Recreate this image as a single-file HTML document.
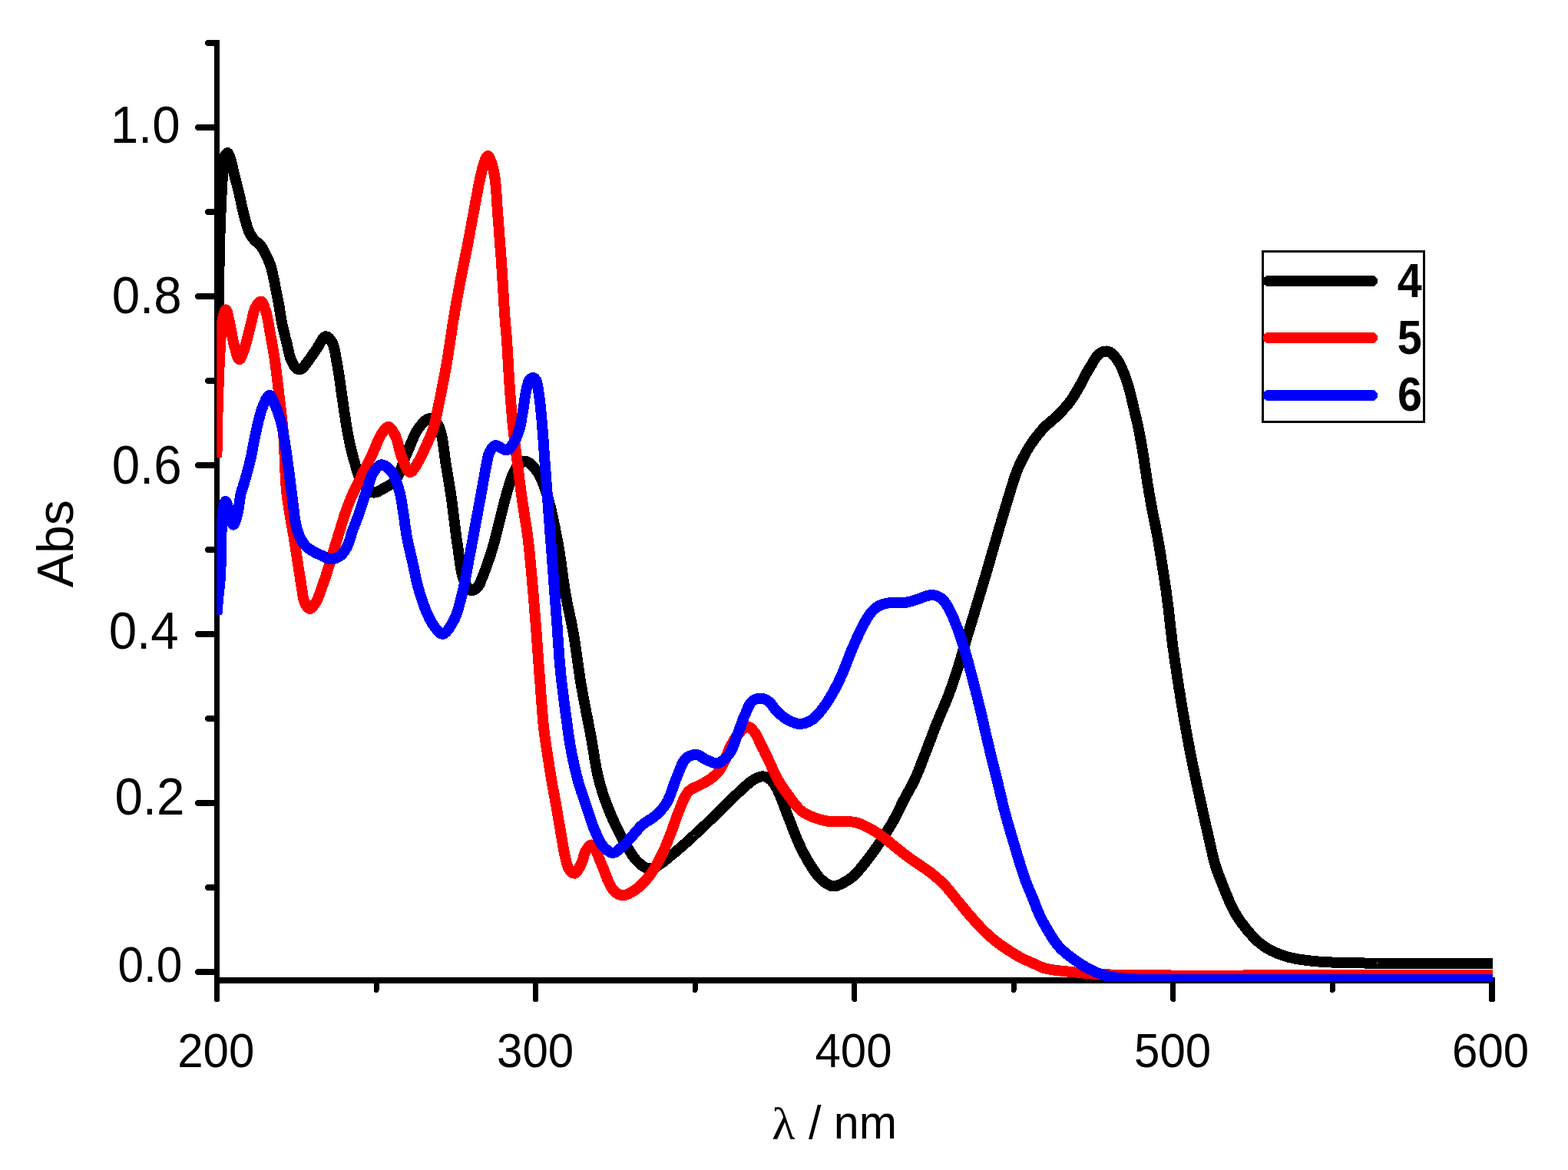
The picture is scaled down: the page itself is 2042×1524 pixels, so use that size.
<!DOCTYPE html>
<html><head><meta charset="utf-8"><title>UV-Vis absorption spectra</title>
<style>
html,body{margin:0;padding:0;background:#fff;}
body{width:2042px;height:1524px;}
svg{display:block;}
text{font-family:"Liberation Sans",sans-serif;fill:#000;}
.lg{font-weight:bold;}
.sym{font-family:"Liberation Serif",serif;}
</style></head><body>
<svg width="2042" height="1524" viewBox="0 0 2042 1524">
<rect x="0" y="0" width="2042" height="1524" fill="#fff"/>
<defs><clipPath id="plot"><rect x="282.2" y="40" width="1661.8" height="1238"/></clipPath></defs>
<g id="axes" fill="#000" shape-rendering="crispEdges"><rect x="279" y="52" width="7" height="1229"/>
<rect x="279" y="1273" width="1668" height="8"/>
<path d="M258 1266.0H282" stroke="#000" stroke-width="8" stroke-linecap="round" fill="none"/>
<path d="M271 1156.0H282" stroke="#000" stroke-width="8" stroke-linecap="round" fill="none"/>
<path d="M258 1046.0H282" stroke="#000" stroke-width="8" stroke-linecap="round" fill="none"/>
<path d="M271 936.0H282" stroke="#000" stroke-width="8" stroke-linecap="round" fill="none"/>
<path d="M258 826.0H282" stroke="#000" stroke-width="8" stroke-linecap="round" fill="none"/>
<path d="M271 716.0H282" stroke="#000" stroke-width="8" stroke-linecap="round" fill="none"/>
<path d="M258 606.0H282" stroke="#000" stroke-width="8" stroke-linecap="round" fill="none"/>
<path d="M271 496.0H282" stroke="#000" stroke-width="8" stroke-linecap="round" fill="none"/>
<path d="M258 386.0H282" stroke="#000" stroke-width="8" stroke-linecap="round" fill="none"/>
<path d="M271 276.0H282" stroke="#000" stroke-width="8" stroke-linecap="round" fill="none"/>
<path d="M258 166.0H282" stroke="#000" stroke-width="8" stroke-linecap="round" fill="none"/>
<path d="M271 56.0H282" stroke="#000" stroke-width="8" stroke-linecap="round" fill="none"/>
<path d="M282.5 1277V1301.5" stroke="#000" stroke-width="7" stroke-linecap="round" fill="none"/>
<path d="M490.0 1277V1289.5" stroke="#000" stroke-width="7" stroke-linecap="round" fill="none"/>
<path d="M697.5 1277V1301.5" stroke="#000" stroke-width="7" stroke-linecap="round" fill="none"/>
<path d="M905.1 1277V1289.5" stroke="#000" stroke-width="7" stroke-linecap="round" fill="none"/>
<path d="M1112.6 1277V1301.5" stroke="#000" stroke-width="7" stroke-linecap="round" fill="none"/>
<path d="M1320.1 1277V1289.5" stroke="#000" stroke-width="7" stroke-linecap="round" fill="none"/>
<path d="M1527.7 1277V1301.5" stroke="#000" stroke-width="7" stroke-linecap="round" fill="none"/>
<path d="M1735.2 1277V1289.5" stroke="#000" stroke-width="7" stroke-linecap="round" fill="none"/>
<path d="M1943.0 1277V1301.5" stroke="#000" stroke-width="8" stroke-linecap="round" fill="none"/></g>
<g id="curves" clip-path="url(#plot)" fill="none" stroke-linejoin="round" stroke-linecap="butt" stroke-width="14" shape-rendering="crispEdges"><path id="c-black" stroke="#000000" d="M282.3 560.0L282.4 557.5L282.4 555.0L282.5 552.5L282.5 550.0L282.6 547.5L282.6 545.0L282.7 542.5L282.7 540.0L282.8 537.5L282.8 534.9L282.9 532.4L282.9 529.9L283.0 527.4L283.0 524.9L283.1 522.4L283.2 519.9L283.2 517.4L283.3 514.9L283.3 512.4L283.4 509.9L283.4 507.3L283.5 504.8L283.5 502.3L283.6 499.8L283.6 497.3L283.7 494.8L283.7 492.3L283.8 489.8L283.8 487.3L283.9 484.8L283.9 482.3L284.0 479.8L284.0 477.3L284.1 474.8L284.1 472.3L284.2 469.8L284.2 467.4L284.3 464.9L284.3 462.4L284.3 459.9L284.4 457.4L284.4 454.9L284.5 452.5L284.5 450.0L284.5 447.5L284.6 444.9L284.6 442.3L284.6 439.8L284.7 437.2L284.7 434.6L284.7 432.0L284.7 429.4L284.8 426.7L284.8 424.1L284.8 421.5L284.8 418.8L284.9 416.2L284.9 413.6L284.9 410.9L284.9 408.3L284.9 405.7L284.9 403.1L285.0 400.4L285.0 397.8L285.0 395.2L285.0 392.7L285.0 390.1L285.0 387.5L285.1 385.0L285.1 382.4L285.1 379.9L285.1 377.4L285.1 374.9L285.2 372.5L285.2 370.0L285.2 367.6L285.2 365.2L285.2 362.9L285.3 360.5L285.3 358.2L285.3 355.9L285.4 353.7L285.4 351.5L285.4 349.3L285.5 347.1L285.5 345.0L285.6 342.1L285.6 339.3L285.7 336.6L285.7 333.9L285.8 331.2L285.8 328.6L285.9 326.0L286.0 323.5L286.0 321.0L286.1 318.5L286.2 316.1L286.2 313.6L286.3 311.2L286.4 308.9L286.4 306.5L286.5 304.1L286.6 301.8L286.7 299.4L286.8 297.1L286.8 294.7L286.9 292.4L287.0 290.0L287.1 287.4L287.2 284.7L287.3 282.1L287.4 279.5L287.5 276.9L287.6 274.3L287.7 271.7L287.8 269.1L287.9 266.6L288.0 264.1L288.2 261.6L288.3 259.1L288.4 256.7L288.5 254.2L288.6 251.9L288.8 249.5L288.9 247.2L289.0 245.0L289.2 242.1L289.3 239.2L289.5 236.3L289.6 233.5L289.8 230.8L290.0 228.1L290.1 225.5L290.3 223.0L290.5 220.5L290.8 218.2L291.0 216.0L291.3 212.7L291.7 209.5L292.0 206.6L292.6 204.0L293.3 202.0L296.3 199.0L297.6 200.4L298.8 203.3L300.0 206.5L300.7 208.7L301.4 211.2L302.0 213.9L302.6 216.6L303.2 219.4L303.8 222.0L304.4 224.5L305.0 226.9L305.6 229.3L306.2 231.7L306.9 234.2L307.5 236.7L308.2 239.4L308.9 242.2L309.6 244.9L310.3 247.7L311.0 250.5L311.7 253.3L312.3 256.1L312.9 258.9L313.5 261.6L314.1 264.4L314.7 267.2L315.3 270.0L316.0 272.8L316.6 275.6L317.3 278.4L318.0 281.2L318.7 283.9L319.5 286.7L320.3 289.5L321.1 292.4L322.0 295.3L322.9 298.1L323.9 300.8L325.0 303.3L326.3 305.8L327.8 308.1L329.4 310.3L331.0 312.3L332.5 314.0L335.3 316.0L338.0 318.0L339.7 320.1L341.3 322.6L342.9 325.4L344.5 328.3L345.6 330.4L346.8 332.7L347.9 335.1L349.0 337.6L350.1 340.1L351.1 342.5L352.0 345.0L352.9 347.8L353.7 350.5L354.3 353.3L355.0 356.1L355.6 358.9L356.2 361.7L356.8 364.5L357.4 367.2L357.9 370.0L358.4 372.8L359.0 375.5L359.5 378.3L360.0 381.0L360.6 383.7L361.1 386.4L361.7 389.2L362.2 392.0L362.8 395.0L363.2 397.3L363.6 399.6L364.0 402.1L364.4 404.5L364.7 407.1L365.2 409.6L365.6 412.2L366.0 414.8L366.5 417.4L367.0 420.0L367.5 422.4L368.1 425.0L368.7 427.5L369.3 430.1L369.9 432.8L370.6 435.4L371.2 438.0L371.8 440.6L372.5 443.1L373.1 445.5L373.7 447.8L374.2 450.0L374.9 453.1L375.5 456.0L376.1 458.8L376.7 461.5L377.4 464.1L378.3 466.7L379.3 469.2L380.5 471.8L381.8 474.4L383.1 476.7L384.5 478.6L386.0 480.0L389.0 481.2L392.0 481.0L394.0 479.7L396.0 477.5L397.9 474.8L400.0 472.0L401.4 470.2L402.9 468.2L404.4 466.0L405.9 463.9L407.4 461.6L408.9 459.4L410.5 457.2L412.0 455.0L413.5 452.7L415.1 450.1L416.6 447.3L418.2 444.7L419.7 442.2L421.2 440.2L422.7 438.8L424.2 438.2L426.3 438.6L428.3 440.1L430.3 442.4L432.0 445.0L432.9 446.7L433.7 448.6L434.4 450.7L435.0 453.0L435.6 455.5L436.2 458.1L436.7 460.8L437.2 463.6L437.7 466.4L438.2 469.3L438.7 472.1L439.2 475.0L439.6 477.2L440.0 479.5L440.4 481.8L440.8 484.2L441.2 486.7L441.6 489.2L442.0 491.7L442.4 494.3L442.7 496.9L443.1 499.5L443.5 502.1L443.8 504.7L444.2 507.3L444.5 509.9L444.9 512.5L445.2 515.1L445.6 517.6L446.0 520.1L446.3 522.6L446.7 525.0L447.1 527.7L447.5 530.4L447.9 533.1L448.3 535.8L448.7 538.5L449.1 541.1L449.5 543.8L449.9 546.4L450.3 549.0L450.7 551.6L451.1 554.2L451.5 556.7L451.9 559.2L452.4 561.8L452.8 564.2L453.3 566.7L453.8 569.4L454.4 572.1L454.9 574.7L455.5 577.3L456.1 579.9L456.6 582.5L457.2 585.0L457.8 587.5L458.5 590.1L459.1 592.6L459.8 595.0L460.5 597.5L461.2 600.0L462.0 602.6L462.7 605.3L463.5 608.0L464.2 610.8L465.0 613.5L465.9 616.2L466.7 618.8L467.6 621.3L468.6 623.7L469.7 626.0L470.8 628.1L472.0 630.0L473.7 632.3L475.6 634.5L477.6 636.6L479.6 638.4L481.7 639.8L483.9 640.9L486.0 641.5L488.3 641.5L490.6 640.9L493.0 640.0L495.3 638.7L497.7 637.3L500.0 636.0L502.2 634.8L504.4 633.6L506.7 632.2L508.9 630.8L511.0 629.1L513.1 627.2L515.0 625.0L516.2 623.3L517.4 621.5L518.5 619.4L519.5 617.2L520.5 614.9L521.5 612.5L522.5 610.1L523.4 607.5L524.3 605.0L525.2 602.4L526.2 599.8L527.1 597.2L528.0 594.8L529.0 592.3L530.0 590.0L531.0 587.6L532.1 585.2L533.1 582.7L534.1 580.2L535.1 577.8L536.1 575.3L537.1 572.9L538.2 570.5L539.2 568.1L540.3 565.9L541.4 563.7L542.6 561.7L543.8 559.8L545.0 558.0L546.9 555.4L549.0 552.9L551.1 550.5L553.3 548.3L555.4 546.6L557.5 545.5L559.5 545.0L561.8 545.4L564.1 546.7L566.3 548.6L568.3 550.8L570.0 553.0L571.4 555.3L572.5 557.8L573.4 560.5L574.2 563.5L575.0 566.7L575.5 568.7L575.9 570.9L576.3 573.2L576.7 575.6L577.1 578.1L577.4 580.7L577.8 583.3L578.1 586.0L578.5 588.8L578.8 591.5L579.2 594.4L579.6 597.2L580.0 600.0L580.4 602.3L580.7 604.7L581.1 607.2L581.5 609.7L582.0 612.3L582.4 614.9L582.8 617.6L583.3 620.3L583.7 623.0L584.2 625.7L584.6 628.4L585.0 631.0L585.5 633.6L585.9 636.2L586.3 638.7L586.7 641.2L587.0 643.5L587.4 645.8L587.7 648.0L588.0 650.0L588.4 653.0L588.8 655.8L589.1 658.4L589.4 660.8L589.7 663.3L590.1 665.8L590.4 668.4L590.8 671.3L591.0 673.6L591.3 676.0L591.6 678.4L591.9 680.9L592.2 683.5L592.6 686.1L592.9 688.8L593.2 691.4L593.6 694.2L593.9 696.9L594.3 699.7L594.7 702.4L595.1 705.2L595.5 708.0L595.9 710.4L596.2 712.9L596.6 715.4L596.9 718.0L597.3 720.7L597.6 723.4L598.0 726.1L598.4 728.9L598.7 731.6L599.1 734.3L599.6 737.0L600.0 739.6L600.5 742.1L601.0 744.6L601.5 746.9L602.1 749.1L602.7 751.3L603.3 753.2L604.0 755.0L605.4 758.3L606.9 761.4L608.5 764.3L610.2 766.7L612.0 768.4L613.8 769.2L615.9 769.0L618.3 767.8L620.5 766.0L622.5 764.0L623.9 762.1L625.1 759.9L626.1 757.4L627.0 754.9L628.0 752.5L629.0 750.1L629.9 747.8L630.8 745.4L631.8 742.8L632.8 740.0L633.6 737.9L634.4 735.6L635.2 733.1L636.1 730.6L637.0 728.1L637.9 725.4L638.7 722.8L639.6 720.2L640.4 717.5L641.2 715.0L641.9 712.5L642.6 710.0L643.3 707.4L644.0 704.9L644.7 702.3L645.3 699.8L646.0 697.3L646.6 694.8L647.2 692.4L647.8 690.0L648.5 687.4L649.1 684.9L649.7 682.4L650.3 679.9L650.9 677.5L651.6 675.0L652.2 672.5L652.8 670.0L653.5 667.3L654.1 664.6L654.8 661.8L655.5 659.1L656.2 656.3L656.9 653.6L657.6 650.9L658.3 648.3L659.1 645.6L659.8 642.9L660.6 640.2L661.4 637.5L662.2 635.0L662.9 632.4L663.7 630.0L664.6 627.2L665.4 624.4L666.2 621.8L667.2 619.2L668.3 616.7L669.6 614.1L671.0 611.5L672.5 609.1L674.2 606.8L676.0 605.0L678.8 602.9L681.8 601.3L685.0 601.0L686.8 601.6L688.7 602.6L690.6 604.1L692.6 605.9L694.6 608.0L696.5 610.3L698.3 612.6L700.0 615.0L701.2 616.8L702.3 618.7L703.4 620.8L704.4 622.9L705.4 625.1L706.4 627.4L707.3 629.8L708.2 632.2L709.0 634.7L709.9 637.3L710.8 639.9L711.6 642.6L712.5 645.3L713.3 648.0L714.0 650.1L714.6 652.3L715.2 654.6L715.8 656.9L716.5 659.2L717.1 661.6L717.7 664.0L718.2 666.5L718.8 669.0L719.4 671.5L720.0 674.0L720.5 676.6L721.1 679.2L721.6 681.8L722.2 684.4L722.7 687.0L723.2 689.7L723.7 692.3L724.2 694.9L724.7 697.6L725.2 700.2L725.7 702.8L726.2 705.4L726.7 708.0L727.2 710.5L727.6 713.0L728.0 715.6L728.4 718.1L728.9 720.7L729.3 723.3L729.6 725.9L730.0 728.6L730.4 731.2L730.8 733.8L731.1 736.4L731.5 739.1L731.9 741.7L732.2 744.3L732.6 747.0L732.9 749.6L733.3 752.2L733.6 754.8L734.0 757.3L734.4 759.9L734.7 762.4L735.1 764.9L735.5 767.4L735.9 769.9L736.3 772.3L736.7 774.7L737.2 777.4L737.7 780.0L738.1 782.5L738.6 785.1L739.1 787.5L739.6 790.0L740.2 792.5L740.7 794.9L741.2 797.3L741.7 799.7L742.2 802.1L742.7 804.5L743.2 806.9L743.8 809.4L744.3 811.9L744.8 814.3L745.3 816.9L745.7 819.4L746.2 822.0L746.7 824.7L747.1 827.1L747.5 829.5L747.9 831.9L748.3 834.4L748.7 836.9L749.1 839.4L749.4 841.9L749.8 844.5L750.2 847.0L750.5 849.6L750.9 852.2L751.3 854.8L751.6 857.4L752.0 860.0L752.4 862.6L752.7 865.3L753.1 867.9L753.5 870.5L753.9 873.1L754.3 875.7L754.6 878.4L755.0 881.0L755.4 883.6L755.9 886.2L756.3 888.7L756.7 891.3L757.1 893.8L757.6 896.3L758.0 898.7L758.4 901.2L758.9 903.7L759.3 906.2L759.8 908.7L760.3 911.2L760.8 913.7L761.2 916.2L761.7 918.7L762.2 921.2L762.7 923.7L763.2 926.2L763.6 928.7L764.1 931.2L764.6 933.6L765.1 936.1L765.6 938.6L766.1 941.0L766.5 943.5L767.0 945.9L767.5 948.4L767.9 950.8L768.4 953.2L768.9 955.6L769.3 958.0L769.8 960.6L770.2 963.2L770.7 965.8L771.1 968.4L771.6 971.0L772.0 973.6L772.4 976.2L772.8 978.8L773.3 981.4L773.7 984.0L774.1 986.5L774.5 989.1L774.9 991.6L775.4 994.1L775.8 996.6L776.3 999.1L776.8 1001.6L777.3 1004.1L777.8 1006.5L778.3 1008.9L778.8 1011.3L779.4 1013.7L780.0 1016.0L780.7 1018.6L781.4 1021.2L782.1 1023.8L782.9 1026.3L783.6 1028.8L784.4 1031.3L785.2 1033.8L786.0 1036.2L786.8 1038.6L787.7 1041.1L788.5 1043.5L789.4 1045.8L790.3 1048.2L791.2 1050.6L792.1 1052.9L793.1 1055.3L794.0 1057.6L795.0 1060.0L796.0 1062.5L797.1 1064.9L798.2 1067.4L799.4 1069.9L800.5 1072.4L801.7 1074.9L802.9 1077.3L804.1 1079.8L805.3 1082.2L806.5 1084.6L807.8 1087.0L809.0 1089.3L810.2 1091.5L811.4 1093.8L812.6 1095.9L813.8 1098.0L815.0 1100.0L816.5 1102.6L818.0 1105.1L819.5 1107.5L820.9 1109.9L822.4 1112.2L823.8 1114.4L825.3 1116.5L826.9 1118.5L828.4 1120.3L830.0 1122.0L832.1 1124.1L834.4 1126.0L836.6 1127.7L838.9 1129.2L841.1 1130.3L843.3 1131.0L845.8 1131.3L848.1 1131.1L850.6 1130.4L853.3 1129.3L855.0 1128.5L856.8 1127.5L858.7 1126.3L860.6 1124.9L862.7 1123.4L864.8 1121.8L866.9 1120.1L869.1 1118.4L871.3 1116.6L873.5 1114.7L875.7 1112.9L877.9 1111.1L880.0 1109.3L881.9 1107.7L883.8 1106.1L885.7 1104.5L887.7 1102.8L889.6 1101.1L891.6 1099.3L893.6 1097.6L895.5 1095.8L897.5 1094.0L899.5 1092.1L901.5 1090.3L903.5 1088.5L905.4 1086.6L907.4 1084.8L909.4 1083.0L911.3 1081.1L913.3 1079.3L915.2 1077.5L917.1 1075.7L919.1 1073.9L921.0 1072.0L923.0 1070.1L925.0 1068.1L927.0 1066.2L929.0 1064.3L931.0 1062.4L932.9 1060.5L934.8 1058.6L936.7 1056.8L938.5 1055.0L940.3 1053.2L942.0 1051.6L943.7 1050.0L945.2 1048.4L946.7 1047.0L948.9 1044.8L950.9 1042.9L952.7 1041.1L954.5 1039.3L956.2 1037.6L958.1 1035.8L960.0 1034.0L962.0 1032.1L964.1 1030.1L966.3 1028.1L968.5 1026.0L970.7 1024.0L972.8 1022.2L974.8 1020.5L976.7 1019.0L979.6 1016.9L982.3 1015.2L985.0 1013.8L987.6 1012.6L990.3 1011.7L993.0 1011.3L995.9 1011.6L998.8 1012.5L1001.5 1014.0L1003.3 1015.4L1005.0 1017.0L1006.7 1019.0L1008.3 1021.3L1010.0 1024.0L1010.9 1025.6L1011.9 1027.4L1012.8 1029.3L1013.8 1031.4L1014.7 1033.6L1015.7 1035.9L1016.7 1038.3L1017.7 1040.8L1018.7 1043.4L1019.7 1046.0L1020.7 1048.6L1021.6 1051.2L1022.6 1053.8L1023.6 1056.4L1024.5 1058.9L1025.5 1061.4L1026.4 1063.7L1027.3 1066.0L1028.3 1068.5L1029.3 1071.0L1030.3 1073.5L1031.2 1075.9L1032.1 1078.4L1033.1 1080.8L1034.0 1083.2L1034.9 1085.5L1035.8 1087.9L1036.8 1090.2L1037.7 1092.5L1038.7 1094.8L1039.7 1097.1L1040.7 1099.3L1041.8 1101.7L1042.9 1104.0L1044.1 1106.4L1045.2 1108.7L1046.4 1110.9L1047.6 1113.2L1048.8 1115.4L1050.0 1117.6L1051.2 1119.8L1052.5 1121.9L1053.7 1124.0L1055.0 1126.0L1056.4 1128.2L1057.8 1130.4L1059.3 1132.6L1060.7 1134.8L1062.2 1136.9L1063.7 1139.0L1065.2 1140.9L1066.8 1142.8L1068.4 1144.5L1070.0 1146.0L1072.4 1148.0L1074.8 1149.8L1077.3 1151.5L1079.9 1152.9L1082.4 1153.8L1085.0 1154.3L1087.5 1154.2L1090.0 1153.7L1092.6 1152.7L1095.1 1151.6L1097.6 1150.3L1100.0 1149.0L1102.3 1147.7L1104.6 1146.3L1106.8 1144.8L1108.9 1143.1L1111.1 1141.3L1113.3 1139.3L1115.0 1137.7L1116.7 1135.9L1118.3 1134.0L1120.0 1132.0L1121.7 1130.0L1123.4 1127.9L1125.0 1125.7L1126.7 1123.6L1128.4 1121.4L1130.0 1119.3L1131.6 1117.3L1133.1 1115.2L1134.6 1113.2L1136.2 1111.1L1137.7 1109.0L1139.2 1106.9L1140.7 1104.7L1142.2 1102.6L1143.7 1100.4L1145.2 1098.2L1146.7 1096.0L1148.1 1093.9L1149.6 1091.7L1151.0 1089.5L1152.4 1087.3L1153.8 1085.1L1155.2 1082.8L1156.6 1080.6L1158.0 1078.3L1159.4 1076.1L1160.7 1073.8L1162.0 1071.6L1163.3 1069.3L1164.6 1066.9L1165.9 1064.5L1167.1 1062.1L1168.3 1059.7L1169.5 1057.2L1170.7 1054.8L1171.9 1052.4L1173.1 1050.0L1174.3 1047.5L1175.5 1045.1L1176.7 1042.7L1177.9 1040.5L1179.0 1038.3L1180.2 1036.2L1181.4 1034.0L1182.6 1031.9L1183.8 1029.8L1185.0 1027.6L1186.2 1025.4L1187.4 1023.1L1188.6 1020.8L1189.8 1018.5L1191.0 1016.0L1192.0 1013.8L1193.0 1011.6L1194.0 1009.2L1195.0 1006.9L1196.0 1004.4L1197.0 1002.0L1198.0 999.5L1199.0 997.0L1199.9 994.4L1200.9 991.9L1201.9 989.4L1202.8 986.8L1203.8 984.3L1204.7 981.9L1205.7 979.4L1206.6 977.0L1207.5 974.7L1208.5 972.2L1209.4 969.7L1210.3 967.3L1211.3 964.9L1212.2 962.5L1213.1 960.1L1213.9 957.8L1214.8 955.4L1215.7 953.1L1216.6 950.7L1217.5 948.4L1218.4 946.0L1219.4 943.7L1220.3 941.3L1221.3 938.9L1222.3 936.5L1223.3 934.2L1224.3 931.8L1225.3 929.4L1226.3 927.0L1227.4 924.7L1228.4 922.3L1229.4 919.9L1230.4 917.5L1231.4 915.2L1232.4 912.8L1233.4 910.4L1234.3 908.0L1235.2 905.6L1236.1 903.3L1237.0 900.9L1237.8 898.5L1238.7 896.1L1239.5 893.8L1240.4 891.4L1241.2 889.0L1242.0 886.6L1242.8 884.2L1243.6 881.9L1244.4 879.5L1245.2 877.1L1246.0 874.7L1246.8 872.1L1247.6 869.6L1248.4 867.0L1249.2 864.4L1250.0 861.9L1250.7 859.3L1251.5 856.7L1252.2 854.2L1253.0 851.6L1253.7 849.0L1254.5 846.4L1255.2 843.9L1256.0 841.3L1256.8 838.7L1257.5 836.2L1258.3 833.6L1259.1 831.0L1259.8 828.5L1260.6 825.9L1261.4 823.4L1262.2 820.8L1262.9 818.2L1263.7 815.7L1264.5 813.1L1265.2 810.6L1266.0 808.0L1266.8 805.4L1267.5 802.9L1268.3 800.3L1269.1 797.8L1269.8 795.2L1270.6 792.6L1271.4 790.1L1272.2 787.5L1272.9 785.0L1273.7 782.4L1274.5 779.8L1275.2 777.3L1276.0 774.7L1276.8 772.1L1277.5 769.6L1278.3 767.0L1279.1 764.4L1279.9 761.9L1280.6 759.3L1281.4 756.7L1282.2 754.1L1283.0 751.6L1283.7 749.0L1284.5 746.4L1285.2 743.9L1286.0 741.3L1286.7 738.7L1287.5 736.1L1288.2 733.6L1289.0 731.0L1289.7 728.4L1290.4 725.8L1291.2 723.2L1291.9 720.6L1292.6 718.0L1293.4 715.5L1294.1 713.0L1294.8 710.5L1295.5 708.0L1296.3 705.4L1297.0 702.8L1297.7 700.3L1298.5 697.7L1299.2 695.2L1299.9 692.8L1300.7 690.3L1301.4 687.7L1302.2 685.2L1302.9 682.6L1303.7 680.0L1304.4 677.5L1305.2 675.0L1305.9 672.5L1306.7 670.0L1307.4 667.4L1308.2 664.8L1309.0 662.2L1309.7 659.6L1310.5 657.0L1311.3 654.4L1312.1 651.8L1312.9 649.3L1313.7 646.7L1314.4 644.3L1315.2 641.9L1315.9 639.4L1316.6 637.0L1317.4 634.5L1318.1 632.1L1318.9 629.6L1319.6 627.2L1320.4 624.8L1321.2 622.4L1322.0 620.1L1322.8 617.8L1323.6 615.5L1324.5 613.3L1325.5 610.8L1326.6 608.4L1327.6 606.0L1328.7 603.6L1329.8 601.3L1331.0 599.0L1332.1 596.8L1333.3 594.6L1334.4 592.4L1335.6 590.3L1336.7 588.3L1338.2 585.7L1339.7 583.2L1341.2 580.8L1342.7 578.5L1344.3 576.2L1345.9 574.0L1347.5 571.7L1349.2 569.5L1350.9 567.3L1352.6 565.1L1354.3 563.0L1356.2 560.9L1358.0 558.8L1360.0 556.7L1361.9 554.8L1364.0 552.9L1366.1 551.1L1368.2 549.3L1370.4 547.5L1372.5 545.6L1374.6 543.7L1376.7 541.7L1378.6 539.8L1380.5 537.8L1382.4 535.9L1384.3 533.9L1386.2 531.8L1388.1 529.7L1389.9 527.6L1391.6 525.5L1393.3 523.3L1394.8 521.3L1396.3 519.1L1397.7 517.0L1399.1 514.8L1400.4 512.5L1401.8 510.3L1403.0 508.1L1404.3 505.9L1405.5 503.8L1406.7 501.7L1408.1 499.2L1409.4 496.6L1410.7 494.1L1412.0 491.7L1413.2 489.3L1414.4 487.1L1415.5 485.0L1416.9 482.5L1418.3 480.3L1419.7 478.2L1421.0 476.0L1422.7 473.1L1424.3 470.2L1426.0 467.5L1427.7 465.1L1429.6 462.9L1431.5 461.0L1434.2 459.2L1437.0 458.0L1441.5 457.5L1446.0 459.0L1448.5 460.9L1451.0 463.5L1452.7 465.5L1454.4 467.8L1456.1 470.4L1457.8 473.3L1458.8 475.2L1459.8 477.2L1460.8 479.4L1461.8 481.7L1462.8 484.0L1463.8 486.5L1464.7 489.0L1465.7 491.5L1466.6 494.1L1467.5 496.7L1468.3 499.0L1469.0 501.5L1469.7 503.9L1470.4 506.5L1471.1 509.0L1471.8 511.6L1472.4 514.2L1473.1 516.9L1473.7 519.5L1474.3 522.2L1475.0 524.8L1475.6 527.4L1476.2 530.0L1476.8 532.6L1477.4 535.1L1478.0 537.7L1478.6 540.2L1479.2 542.8L1479.8 545.3L1480.4 547.9L1481.0 550.5L1481.6 553.0L1482.1 555.6L1482.7 558.2L1483.2 560.7L1483.7 563.3L1484.2 565.9L1484.7 568.4L1485.2 571.0L1485.6 573.6L1486.1 576.1L1486.5 578.7L1487.0 581.3L1487.4 583.8L1487.8 586.4L1488.2 589.0L1488.7 591.6L1489.1 594.1L1489.5 596.7L1489.9 599.3L1490.3 601.8L1490.7 604.4L1491.1 606.9L1491.4 609.5L1491.8 612.1L1492.2 614.6L1492.6 617.2L1492.9 619.8L1493.3 622.3L1493.7 624.9L1494.1 627.4L1494.5 630.0L1494.9 632.6L1495.4 635.2L1495.8 637.9L1496.2 640.5L1496.7 643.2L1497.2 645.8L1497.6 648.5L1498.1 651.1L1498.5 653.6L1499.0 656.2L1499.4 658.6L1499.9 661.0L1500.3 663.3L1500.8 666.1L1501.4 668.8L1501.9 671.4L1502.4 673.9L1502.9 676.3L1503.5 678.8L1504.0 681.4L1504.5 684.0L1505.0 686.5L1505.5 689.0L1506.0 691.4L1506.4 693.9L1506.9 696.4L1507.4 699.0L1507.9 701.8L1508.4 704.8L1509.0 708.0L1509.3 710.0L1509.7 712.0L1510.0 714.2L1510.4 716.4L1510.8 718.7L1511.2 721.1L1511.6 723.5L1512.0 726.1L1512.4 728.6L1512.8 731.2L1513.2 733.9L1513.6 736.5L1514.1 739.3L1514.5 742.0L1514.9 744.7L1515.3 747.5L1515.8 750.3L1516.2 753.1L1516.6 755.8L1517.0 758.6L1517.4 761.4L1517.8 764.1L1518.2 766.8L1518.6 769.5L1518.9 772.1L1519.3 774.7L1519.6 777.3L1520.0 779.8L1520.3 782.4L1520.6 784.9L1521.0 787.5L1521.3 790.1L1521.6 792.6L1521.9 795.2L1522.2 797.7L1522.5 800.3L1522.7 802.9L1523.0 805.4L1523.3 808.0L1523.6 810.6L1523.9 813.1L1524.2 815.7L1524.5 818.2L1524.8 820.8L1525.1 823.4L1525.4 825.9L1525.7 828.5L1526.0 831.1L1526.3 833.6L1526.6 836.2L1527.0 838.7L1527.3 841.3L1527.6 843.9L1528.0 846.4L1528.4 849.0L1528.7 851.6L1529.1 854.1L1529.4 856.7L1529.8 859.3L1530.2 861.8L1530.5 864.4L1530.9 867.0L1531.3 869.5L1531.7 872.1L1532.1 874.7L1532.5 877.2L1532.8 879.8L1533.2 882.4L1533.6 884.9L1534.0 887.5L1534.4 890.1L1534.8 892.6L1535.2 895.2L1535.6 897.7L1536.1 900.3L1536.5 902.9L1536.9 905.4L1537.3 908.0L1537.7 910.5L1538.1 913.0L1538.5 915.5L1539.0 918.0L1539.4 920.6L1539.8 923.1L1540.2 925.7L1540.7 928.3L1541.1 930.8L1541.6 933.4L1542.0 936.0L1542.4 938.5L1542.9 941.1L1543.3 943.6L1543.8 946.2L1544.2 948.7L1544.7 951.2L1545.1 953.7L1545.6 956.1L1546.0 958.6L1546.4 961.0L1546.9 963.3L1547.3 965.7L1547.7 968.0L1548.2 970.3L1548.6 972.5L1549.0 974.7L1549.5 977.5L1550.1 980.3L1550.6 982.9L1551.1 985.5L1551.6 988.0L1552.1 990.5L1552.6 992.9L1553.1 995.3L1553.6 997.7L1554.1 1000.2L1554.7 1002.7L1555.2 1005.2L1555.7 1007.8L1556.3 1010.4L1556.9 1013.1L1557.5 1016.0L1558.0 1018.2L1558.4 1020.4L1558.9 1022.7L1559.4 1025.1L1560.0 1027.5L1560.5 1029.9L1561.0 1032.4L1561.6 1034.9L1562.1 1037.5L1562.7 1040.0L1563.2 1042.6L1563.8 1045.2L1564.4 1047.8L1565.0 1050.4L1565.5 1053.0L1566.1 1055.7L1566.7 1058.3L1567.3 1060.8L1567.8 1063.4L1568.4 1066.0L1569.0 1068.5L1569.5 1071.0L1570.1 1073.4L1570.6 1075.8L1571.2 1078.2L1571.7 1080.5L1572.2 1082.8L1572.7 1085.0L1573.3 1087.8L1574.0 1090.6L1574.6 1093.4L1575.2 1096.1L1575.8 1098.8L1576.4 1101.5L1577.0 1104.2L1577.6 1106.8L1578.2 1109.3L1578.8 1111.9L1579.3 1114.3L1579.9 1116.8L1580.5 1119.1L1581.1 1121.4L1581.7 1123.7L1582.4 1125.9L1583.0 1128.0L1583.9 1130.8L1584.8 1133.5L1585.7 1136.0L1586.6 1138.5L1587.6 1140.9L1588.5 1143.2L1589.4 1145.5L1590.3 1147.7L1591.2 1150.0L1592.2 1152.6L1593.2 1155.0L1594.1 1157.5L1595.1 1159.9L1596.0 1162.2L1597.0 1164.6L1598.0 1167.0L1599.0 1169.4L1600.0 1171.8L1601.0 1174.1L1602.1 1176.5L1603.1 1178.8L1604.2 1181.1L1605.3 1183.3L1606.5 1185.6L1607.8 1187.9L1609.0 1190.1L1610.3 1192.3L1611.6 1194.4L1613.0 1196.5L1614.7 1199.0L1616.4 1201.4L1618.2 1203.8L1620.0 1206.1L1621.7 1208.3L1623.5 1210.6L1625.3 1212.8L1627.1 1214.9L1629.0 1217.0L1630.8 1219.0L1632.7 1221.0L1634.6 1223.0L1636.7 1225.0L1638.5 1226.6L1640.5 1228.3L1642.5 1229.9L1644.6 1231.5L1646.8 1233.1L1649.0 1234.5L1651.3 1235.9L1653.6 1237.2L1655.9 1238.4L1658.3 1239.5L1660.8 1240.6L1663.3 1241.7L1665.6 1242.6L1667.8 1243.5L1670.1 1244.3L1672.5 1245.1L1674.9 1245.8L1677.4 1246.5L1680.0 1247.2L1682.3 1247.7L1684.7 1248.2L1687.1 1248.7L1689.6 1249.1L1692.2 1249.6L1694.7 1249.9L1697.3 1250.3L1699.9 1250.7L1702.5 1251.0L1705.0 1251.3L1707.5 1251.6L1709.9 1251.8L1712.2 1252.1L1714.6 1252.3L1717.0 1252.5L1719.4 1252.7L1721.9 1252.8L1724.4 1253.0L1727.1 1253.1L1730.0 1253.3L1732.1 1253.4L1734.2 1253.5L1736.4 1253.6L1738.7 1253.7L1740.9 1253.8L1743.3 1253.8L1745.6 1253.9L1748.1 1254.0L1750.5 1254.0L1753.0 1254.1L1755.5 1254.1L1758.1 1254.2L1760.7 1254.2L1763.4 1254.3L1766.1 1254.3L1768.8 1254.3L1771.5 1254.4L1774.3 1254.4L1777.2 1254.5L1780.0 1254.5L1782.2 1254.5L1784.4 1254.6L1786.6 1254.6L1788.9 1254.6L1791.2 1254.6L1793.5 1254.7L1795.9 1254.7L1798.3 1254.7L1800.8 1254.7L1803.2 1254.7L1805.7 1254.8L1808.3 1254.8L1810.8 1254.8L1813.3 1254.8L1815.9 1254.8L1818.5 1254.8L1821.1 1254.9L1823.7 1254.9L1826.3 1254.9L1828.9 1254.9L1831.5 1254.9L1834.2 1254.9L1836.8 1254.9L1839.4 1254.9L1842.0 1254.9L1844.7 1254.9L1847.3 1254.9L1849.9 1254.9L1852.4 1255.0L1855.0 1255.0L1857.6 1255.0L1860.1 1255.0L1862.6 1255.0L1865.1 1255.0L1867.6 1255.0L1870.0 1255.0L1872.6 1255.0L1875.1 1255.0L1877.7 1255.0L1880.2 1255.0L1882.8 1255.0L1885.3 1255.0L1887.8 1255.0L1890.3 1255.0L1892.8 1255.0L1895.3 1255.0L1897.8 1255.0L1900.3 1255.0L1902.8 1255.0L1905.3 1255.0L1907.8 1255.0L1910.3 1255.0L1912.8 1255.0L1915.3 1255.0L1917.7 1255.0L1920.2 1255.0L1922.7 1255.0L1925.2 1255.0L1927.6 1255.0L1930.1 1255.0L1932.6 1255.0L1935.1 1255.0L1937.5 1255.0L1940.0 1255.0L1942.5 1255.0L1945.0 1255.0L1947.5 1255.0L1950.0 1255.0"/><path id="c-red" stroke="#ff0000" d="M282.3 596.0L282.4 593.5L282.4 590.9L282.5 588.4L282.5 585.8L282.6 583.3L282.6 580.7L282.7 578.2L282.7 575.7L282.8 573.1L282.8 570.6L282.9 568.0L282.9 565.4L283.0 562.9L283.0 560.4L283.1 557.8L283.1 555.3L283.2 552.7L283.2 550.2L283.3 547.6L283.3 545.1L283.4 542.6L283.4 540.0L283.5 537.5L283.6 535.0L283.6 532.5L283.7 530.0L283.8 527.5L283.8 525.0L283.9 522.5L284.0 520.0L284.1 517.4L284.2 514.9L284.3 512.3L284.3 509.6L284.4 507.0L284.5 504.4L284.6 501.7L284.7 499.1L284.8 496.4L284.9 493.8L285.0 491.2L285.1 488.5L285.2 485.9L285.3 483.3L285.4 480.7L285.5 478.2L285.7 475.6L285.8 473.1L285.9 470.6L286.0 468.2L286.1 465.7L286.2 463.4L286.4 461.0L286.5 458.7L286.6 456.5L286.7 454.3L286.9 452.1L287.0 450.0L287.2 447.1L287.3 444.2L287.5 441.4L287.7 438.6L287.8 435.8L288.0 433.1L288.1 430.5L288.3 428.0L288.5 425.6L288.8 423.2L289.0 421.0L289.3 418.9L289.6 416.9L290.0 415.0L290.9 411.0L292.0 407.2L293.1 404.4L294.2 403.3L295.0 404.1L295.8 406.2L296.6 409.3L297.4 412.8L298.2 416.5L299.0 420.0L299.5 422.2L300.0 424.6L300.5 427.1L300.9 429.6L301.4 432.3L301.9 434.9L302.3 437.6L302.8 440.3L303.3 442.8L303.9 445.4L304.4 447.7L305.0 450.0L305.9 453.2L306.8 456.6L307.7 460.1L308.7 463.2L309.7 465.8L310.7 467.6L311.7 468.3L312.9 467.5L314.2 465.2L315.5 462.1L316.8 458.5L318.0 455.0L318.7 452.9L319.4 450.7L320.1 448.3L320.8 445.8L321.4 443.3L322.1 440.6L322.8 437.9L323.4 435.3L324.1 432.6L324.7 430.0L325.4 427.4L326.0 425.0L326.7 422.3L327.3 419.6L328.0 416.8L328.6 414.1L329.2 411.4L329.8 408.7L330.5 406.2L331.3 403.9L332.1 401.8L333.0 400.0L334.6 397.3L336.5 394.8L338.3 393.0L340.0 392.5L341.4 393.4L342.6 395.6L343.8 398.5L344.9 401.8L346.0 405.0L346.7 407.1L347.3 409.4L347.8 411.8L348.3 414.3L348.8 416.9L349.3 419.6L349.8 422.3L350.3 425.1L350.7 427.8L351.2 430.6L351.7 433.3L352.2 435.8L352.6 438.2L353.1 440.7L353.5 443.1L354.0 445.6L354.4 448.1L354.9 450.7L355.3 453.2L355.8 455.8L356.2 458.5L356.6 461.2L357.1 463.9L357.5 466.7L357.8 469.0L358.2 471.3L358.5 473.6L358.8 476.0L359.1 478.5L359.5 480.9L359.8 483.4L360.1 486.0L360.4 488.5L360.7 491.1L361.0 493.6L361.3 496.2L361.6 498.8L361.9 501.4L362.2 504.0L362.5 506.5L362.8 509.1L363.1 511.7L363.4 514.2L363.7 516.7L364.0 519.2L364.3 521.7L364.6 524.1L364.9 526.5L365.2 529.0L365.5 531.4L365.8 533.8L366.0 536.2L366.3 538.6L366.6 541.1L366.9 543.5L367.2 546.0L367.4 548.5L367.7 551.0L368.0 553.5L368.2 556.1L368.5 558.7L368.7 561.3L369.0 564.0L369.2 566.7L369.4 569.0L369.6 571.4L369.7 573.8L369.9 576.3L370.0 578.7L370.1 581.2L370.2 583.8L370.3 586.3L370.4 588.9L370.5 591.5L370.6 594.1L370.7 596.7L370.8 599.4L370.9 602.0L371.0 604.7L371.1 607.3L371.2 610.0L371.3 612.7L371.5 615.3L371.6 618.0L371.7 620.6L371.9 623.3L372.0 625.9L372.2 628.5L372.4 631.1L372.6 633.7L372.8 636.3L373.0 638.8L373.3 641.3L373.6 643.8L373.9 646.4L374.2 648.9L374.5 651.5L374.9 654.0L375.3 656.6L375.7 659.1L376.0 661.7L376.4 664.2L376.9 666.7L377.3 669.2L377.7 671.8L378.1 674.3L378.6 676.8L379.0 679.2L379.5 681.7L379.9 684.2L380.3 686.6L380.8 689.1L381.2 691.5L381.6 693.9L382.0 696.3L382.5 698.7L382.9 701.0L383.3 703.4L383.6 705.7L384.0 708.0L384.4 710.7L384.8 713.4L385.2 716.0L385.6 718.7L386.0 721.4L386.4 724.0L386.8 726.6L387.2 729.3L387.6 731.8L388.0 734.4L388.4 736.9L388.7 739.5L389.1 741.9L389.5 744.4L389.9 746.8L390.2 749.1L390.6 751.4L391.0 753.7L391.3 755.9L391.7 758.0L392.2 760.8L392.6 763.7L393.0 766.4L393.4 769.2L393.8 771.8L394.2 774.4L394.6 776.8L395.1 779.1L395.7 781.3L396.3 783.2L397.0 785.0L398.4 787.8L399.9 790.4L401.6 792.2L403.3 793.0L405.2 792.3L407.1 790.5L409.1 787.9L411.0 785.0L412.1 783.2L413.1 781.3L414.1 779.1L415.0 776.8L416.0 774.4L416.9 771.8L417.8 769.2L418.8 766.5L419.7 763.7L420.7 760.8L421.7 758.0L422.4 755.9L423.2 753.6L424.0 751.4L424.7 749.0L425.5 746.6L426.3 744.2L427.0 741.7L427.8 739.1L428.6 736.6L429.4 734.0L430.2 731.4L431.0 728.8L431.8 726.1L432.5 723.5L433.3 720.9L434.1 718.2L434.9 715.6L435.7 713.1L436.5 710.5L437.3 708.0L438.1 705.5L438.9 702.9L439.7 700.4L440.4 697.8L441.2 695.2L442.0 692.6L442.8 690.1L443.6 687.5L444.4 684.9L445.1 682.3L445.9 679.7L446.7 677.2L447.5 674.7L448.3 672.2L449.1 669.7L450.0 667.3L450.8 664.9L451.6 662.6L452.5 660.3L453.3 658.0L454.3 655.4L455.4 652.8L456.4 650.4L457.4 647.9L458.5 645.5L459.5 643.2L460.6 640.9L461.7 638.6L462.8 636.3L463.9 634.0L465.0 631.7L466.1 629.4L467.2 627.1L468.3 624.7L469.5 622.3L470.6 619.9L471.8 617.5L473.1 615.0L474.3 612.6L475.5 610.2L476.8 607.7L478.0 605.3L479.2 602.9L480.4 600.6L481.6 598.2L482.8 595.9L483.9 593.6L485.0 591.3L486.2 588.7L487.3 586.1L488.4 583.5L489.5 580.9L490.5 578.3L491.6 575.8L492.6 573.3L493.7 571.0L494.7 568.8L495.8 566.8L497.0 565.0L498.8 562.5L500.6 560.0L502.4 557.9L504.2 556.5L506.0 556.0L507.6 556.6L509.2 558.1L510.7 560.2L512.2 562.7L513.7 565.4L515.0 568.0L515.9 570.0L516.7 572.2L517.4 574.6L518.1 577.1L518.7 579.7L519.3 582.4L520.0 585.0L520.6 587.7L521.3 590.2L522.1 592.7L523.0 595.0L524.1 597.6L525.2 600.5L526.3 603.4L527.6 606.3L528.8 608.9L530.1 611.3L531.4 613.2L532.7 614.5L534.0 615.0L535.5 614.6L537.1 613.2L538.8 611.2L540.4 608.8L542.0 606.1L543.6 603.4L545.0 601.0L546.4 598.7L547.7 596.3L548.9 593.8L550.1 591.3L551.3 588.7L552.5 586.0L553.7 583.3L554.8 581.0L555.8 578.7L556.9 576.3L558.0 573.8L559.2 571.4L560.2 568.8L561.3 566.3L562.3 563.7L563.3 561.0L564.2 558.3L564.9 555.9L565.6 553.4L566.3 550.9L566.9 548.3L567.5 545.7L568.1 543.0L568.6 540.4L569.2 537.7L569.7 535.1L570.2 532.5L570.7 529.9L571.2 527.4L571.7 525.0L572.3 522.4L572.8 519.8L573.3 517.3L573.8 514.8L574.3 512.4L574.8 509.9L575.2 507.5L575.7 505.0L576.2 502.5L576.7 500.0L577.2 497.5L577.7 495.0L578.2 492.4L578.7 489.9L579.2 487.3L579.6 484.7L580.1 482.1L580.6 479.5L581.1 476.9L581.5 474.3L582.0 471.7L582.4 469.2L582.8 466.7L583.2 464.2L583.6 461.7L584.0 459.1L584.4 456.6L584.8 454.1L585.2 451.5L585.6 449.0L586.0 446.6L586.3 444.1L586.7 441.7L587.1 439.1L587.5 436.7L587.8 434.3L588.2 431.9L588.5 429.5L588.9 427.1L589.2 424.7L589.6 422.2L590.0 419.5L590.5 416.7L590.9 414.5L591.3 412.2L591.7 409.8L592.1 407.3L592.5 404.8L592.9 402.3L593.4 399.7L593.9 397.0L594.3 394.3L594.8 391.6L595.3 388.9L595.8 386.2L596.3 383.5L596.8 380.8L597.3 378.0L597.8 375.3L598.3 372.7L598.8 370.0L599.2 367.5L599.7 365.0L600.2 362.5L600.7 360.0L601.2 357.5L601.7 354.9L602.2 352.4L602.7 349.9L603.2 347.3L603.8 344.8L604.3 342.2L604.8 339.7L605.3 337.2L605.8 334.6L606.3 332.1L606.8 329.7L607.3 327.2L607.8 324.8L608.3 322.4L608.8 320.0L609.3 317.4L609.7 314.8L610.2 312.3L610.7 309.8L611.1 307.3L611.6 304.9L612.0 302.4L612.5 300.0L612.9 297.6L613.4 295.1L613.8 292.7L614.3 290.2L614.8 287.7L615.2 285.2L615.7 282.6L616.2 280.0L616.7 277.6L617.1 275.1L617.6 272.6L618.1 270.0L618.5 267.4L619.0 264.7L619.5 262.0L620.0 259.3L620.5 256.6L621.0 253.9L621.5 251.3L622.0 248.6L622.5 246.0L623.0 243.5L623.5 241.0L623.9 238.6L624.4 236.3L624.9 234.1L625.3 232.0L625.8 230.0L626.5 227.0L627.2 224.1L627.8 221.3L628.4 218.7L629.1 216.3L629.8 214.0L630.5 211.9L631.2 210.0L632.5 206.8L633.9 204.1L635.3 203.0L636.7 204.1L638.0 206.8L639.3 210.0L640.0 211.9L640.7 214.0L641.4 216.3L642.0 218.7L642.6 221.3L643.1 224.1L643.7 227.0L644.2 230.0L644.5 232.0L644.8 234.0L645.0 236.2L645.3 238.4L645.5 240.7L645.7 243.1L645.9 245.5L646.1 248.0L646.3 250.5L646.5 253.1L646.7 255.7L646.9 258.4L647.0 261.1L647.2 263.7L647.4 266.5L647.5 269.2L647.7 271.9L647.9 274.6L648.1 277.3L648.3 280.0L648.5 282.4L648.7 284.8L648.9 287.3L649.1 289.7L649.3 292.2L649.5 294.7L649.6 297.3L649.8 299.8L650.0 302.4L650.2 305.0L650.4 307.5L650.6 310.1L650.8 312.8L651.0 315.4L651.2 318.0L651.4 320.6L651.6 323.2L651.8 325.9L652.0 328.5L652.2 331.1L652.4 333.7L652.6 336.3L652.8 338.9L652.9 341.5L653.1 344.1L653.3 346.7L653.5 349.3L653.7 351.9L653.8 354.6L654.0 357.2L654.2 360.0L654.3 362.7L654.5 365.4L654.7 368.2L654.8 370.9L655.0 373.7L655.2 376.4L655.3 379.2L655.5 381.9L655.7 384.6L655.8 387.2L656.0 389.9L656.1 392.5L656.3 395.0L656.4 397.5L656.6 400.0L656.7 402.4L656.9 404.7L657.1 407.0L657.2 409.2L657.4 411.3L657.5 413.3L657.7 416.4L658.0 419.2L658.2 421.8L658.4 424.3L658.7 426.6L658.9 429.0L659.1 431.5L659.3 434.1L659.6 436.9L659.8 440.0L659.9 442.0L660.1 444.1L660.2 446.2L660.4 448.5L660.5 450.8L660.7 453.2L660.8 455.6L661.0 458.1L661.1 460.7L661.3 463.3L661.4 465.9L661.6 468.6L661.7 471.3L661.9 474.0L662.0 476.7L662.2 479.4L662.3 482.1L662.5 484.9L662.7 487.6L662.8 490.2L663.0 492.9L663.2 495.5L663.3 498.1L663.5 500.7L663.7 503.2L663.8 505.6L664.0 508.0L664.2 510.8L664.4 513.5L664.6 516.2L664.8 518.9L665.0 521.6L665.3 524.3L665.5 527.0L665.7 529.6L665.9 532.2L666.1 534.8L666.4 537.4L666.6 540.0L666.8 542.5L667.0 545.1L667.3 547.6L667.5 550.1L667.8 552.6L668.0 555.1L668.2 557.5L668.5 560.0L668.8 562.7L669.1 565.3L669.4 567.9L669.7 570.5L670.0 573.0L670.3 575.6L670.6 578.1L670.9 580.6L671.2 583.0L671.5 585.5L671.8 588.1L672.2 590.6L672.5 593.1L672.8 595.7L673.2 598.3L673.5 601.0L673.8 603.4L674.1 605.8L674.4 608.2L674.7 610.7L675.0 613.2L675.3 615.6L675.7 618.1L676.0 620.6L676.3 623.2L676.6 625.7L677.0 628.2L677.3 630.8L677.6 633.3L677.9 635.8L678.3 638.4L678.6 640.9L679.0 643.5L679.3 646.0L679.7 648.5L680.0 651.0L680.4 653.5L680.7 656.0L681.1 658.5L681.5 661.0L681.9 663.5L682.3 666.0L682.7 668.5L683.0 671.0L683.4 673.5L683.8 676.0L684.2 678.5L684.6 681.0L685.0 683.5L685.4 686.0L685.8 688.5L686.1 691.0L686.5 693.5L686.8 696.0L687.2 698.5L687.5 701.0L687.8 703.5L688.1 706.0L688.4 708.5L688.7 711.0L688.9 713.5L689.2 716.0L689.5 718.5L689.7 721.0L690.0 723.5L690.2 726.0L690.4 728.5L690.7 731.0L690.9 733.5L691.1 736.0L691.4 738.5L691.6 741.0L691.8 743.5L692.0 746.0L692.3 748.5L692.5 751.0L692.7 753.5L693.0 756.0L693.2 758.5L693.4 761.0L693.6 763.5L693.8 766.0L694.1 768.5L694.3 771.0L694.5 773.5L694.7 776.0L694.9 778.5L695.1 781.0L695.3 783.5L695.5 786.0L695.7 788.5L695.9 791.0L696.1 793.5L696.3 796.0L696.5 798.5L696.8 801.0L696.9 803.5L697.1 806.0L697.3 808.5L697.5 811.0L697.7 813.5L697.9 816.0L698.1 818.5L698.3 821.0L698.5 823.5L698.7 826.0L698.8 828.5L699.0 831.0L699.2 833.5L699.4 836.0L699.6 838.5L699.8 841.0L699.9 843.5L700.1 846.0L700.3 848.5L700.5 851.0L700.7 853.5L700.9 856.0L701.1 858.5L701.2 861.0L701.4 863.5L701.6 866.0L701.8 868.5L702.0 871.0L702.2 873.5L702.3 876.0L702.5 878.5L702.7 881.0L702.9 883.5L703.1 886.0L703.3 888.5L703.5 891.0L703.7 893.5L703.9 896.0L704.1 898.5L704.2 901.0L704.4 903.5L704.6 906.0L704.8 908.4L705.0 910.9L705.2 913.4L705.4 915.8L705.5 918.2L705.7 920.7L705.9 923.1L706.1 925.6L706.3 928.1L706.5 930.5L706.7 933.0L706.9 935.5L707.1 938.1L707.4 940.6L707.6 943.2L707.9 945.7L708.2 948.4L708.5 951.0L708.8 953.4L709.1 955.8L709.4 958.3L709.7 960.8L710.1 963.3L710.4 965.9L710.8 968.5L711.2 971.1L711.6 973.7L712.0 976.4L712.4 979.0L712.8 981.7L713.2 984.3L713.6 987.0L714.0 989.6L714.4 992.2L714.8 994.8L715.2 997.3L715.6 999.8L716.0 1002.3L716.4 1004.7L716.8 1007.1L717.2 1009.4L717.6 1011.7L717.9 1013.9L718.3 1016.0L718.8 1018.9L719.3 1021.7L719.7 1024.4L720.2 1027.1L720.7 1029.6L721.1 1032.1L721.6 1034.6L722.1 1037.0L722.5 1039.4L723.0 1041.8L723.4 1044.3L723.9 1046.8L724.3 1049.3L724.7 1051.9L725.2 1054.4L725.6 1057.0L726.1 1059.6L726.5 1062.1L726.9 1064.7L727.4 1067.3L727.8 1069.9L728.2 1072.4L728.7 1075.0L729.1 1077.6L729.6 1080.1L730.0 1082.7L730.4 1085.3L730.9 1088.0L731.3 1090.6L731.8 1093.4L732.2 1096.1L732.7 1098.8L733.1 1101.5L733.6 1104.1L734.0 1106.7L734.5 1109.2L735.0 1111.6L735.5 1113.8L736.0 1116.0L736.7 1119.1L737.4 1122.1L738.1 1125.0L738.9 1127.6L739.8 1130.0L741.0 1132.0L743.2 1134.8L745.8 1137.0L748.3 1137.7L749.8 1136.9L751.4 1135.2L752.9 1132.9L754.4 1130.3L755.7 1127.5L757.0 1125.0L758.0 1122.7L758.9 1120.2L759.6 1117.5L760.3 1114.9L761.1 1112.4L762.0 1110.0L763.0 1108.0L764.7 1105.4L766.6 1103.0L768.5 1101.2L770.3 1100.5L772.3 1101.9L774.2 1104.8L776.0 1108.0L777.1 1110.2L778.1 1112.6L779.1 1115.0L780.0 1117.5L781.0 1120.0L782.0 1122.4L783.0 1124.8L784.0 1127.2L785.0 1129.6L786.0 1132.0L787.0 1134.6L788.0 1137.2L788.9 1139.8L789.9 1142.4L791.0 1145.0L792.1 1147.5L793.2 1150.1L794.4 1152.5L795.6 1154.9L797.0 1157.0L799.1 1159.7L801.5 1162.1L804.0 1164.0L806.5 1165.3L809.1 1166.2L812.0 1166.3L813.9 1165.9L816.1 1165.2L818.4 1164.3L820.7 1163.0L823.1 1161.7L825.5 1160.2L827.8 1158.6L830.0 1157.0L832.0 1155.4L834.0 1153.7L835.9 1151.9L837.8 1149.9L839.7 1147.9L841.5 1145.8L843.3 1143.7L845.0 1141.5L846.7 1139.3L848.2 1137.3L849.6 1135.3L850.9 1133.2L852.3 1131.0L853.6 1128.9L854.9 1126.6L856.1 1124.4L857.3 1122.1L858.6 1119.8L859.8 1117.4L861.0 1115.0L862.1 1112.7L863.3 1110.3L864.4 1107.9L865.5 1105.4L866.5 1102.9L867.6 1100.4L868.7 1097.8L869.7 1095.3L870.7 1092.7L871.7 1090.2L872.6 1087.8L873.6 1085.3L874.5 1083.0L875.5 1080.4L876.4 1077.9L877.2 1075.5L878.0 1073.0L878.9 1070.6L879.7 1068.2L880.5 1065.8L881.4 1063.4L882.3 1061.0L883.3 1058.5L884.2 1056.2L885.2 1053.8L886.2 1051.3L887.2 1048.8L888.2 1046.2L889.2 1043.7L890.3 1041.3L891.5 1038.9L892.7 1036.7L893.9 1034.6L895.3 1032.7L896.7 1031.0L898.8 1029.1L901.1 1027.5L903.6 1026.2L906.1 1025.1L908.6 1024.0L911.0 1022.9L913.3 1021.7L915.9 1020.2L918.5 1018.8L921.0 1017.4L923.4 1015.9L925.8 1014.2L928.2 1012.4L930.5 1010.4L932.7 1008.4L934.8 1006.2L936.7 1004.0L938.3 1001.7L939.7 999.4L940.9 996.9L942.1 994.3L943.3 991.7L944.3 989.5L945.2 987.1L946.1 984.7L947.0 982.3L947.9 979.8L948.9 977.4L950.0 975.0L951.2 972.5L952.5 970.0L953.9 967.4L955.3 964.9L956.8 962.5L958.3 960.2L960.0 958.0L961.7 955.9L963.6 953.7L965.6 951.5L967.6 949.5L969.6 947.9L971.5 946.7L973.3 946.3L975.6 946.9L977.9 948.5L980.0 950.7L982.0 953.0L983.5 955.0L984.9 957.4L986.2 959.9L987.4 962.6L988.7 965.3L990.0 968.0L991.2 970.3L992.4 972.7L993.6 975.1L994.9 977.6L996.1 980.1L997.4 982.7L998.7 985.3L1000.0 988.0L1001.0 990.2L1002.1 992.5L1003.2 994.8L1004.2 997.2L1005.3 999.6L1006.4 1002.1L1007.5 1004.5L1008.7 1006.9L1009.8 1009.3L1010.9 1011.6L1012.1 1013.8L1013.3 1016.0L1014.7 1018.4L1016.1 1020.8L1017.6 1023.0L1019.0 1025.2L1020.5 1027.4L1022.0 1029.6L1023.5 1031.7L1025.1 1033.8L1026.7 1036.0L1028.2 1038.1L1029.8 1040.2L1031.3 1042.4L1032.9 1044.5L1034.5 1046.6L1036.2 1048.7L1037.9 1050.7L1039.6 1052.6L1041.4 1054.4L1043.3 1056.0L1045.6 1057.7L1048.0 1059.2L1050.5 1060.6L1053.1 1061.9L1055.7 1063.0L1058.3 1064.1L1060.8 1065.1L1063.3 1066.0L1066.1 1067.0L1068.7 1067.8L1071.3 1068.4L1074.0 1069.0L1076.9 1069.5L1080.0 1070.0L1082.2 1070.2L1084.6 1070.4L1087.1 1070.4L1089.8 1070.4L1092.5 1070.3L1095.3 1070.3L1098.1 1070.2L1100.8 1070.2L1103.6 1070.2L1106.2 1070.2L1108.7 1070.4L1111.1 1070.6L1113.3 1071.0L1116.0 1071.7L1118.6 1072.5L1121.0 1073.4L1123.2 1074.4L1125.5 1075.4L1127.7 1076.5L1130.0 1077.7L1132.4 1078.9L1134.8 1080.3L1137.2 1081.6L1139.6 1083.1L1142.0 1084.6L1144.4 1086.1L1146.7 1087.7L1148.8 1089.2L1150.9 1090.8L1153.0 1092.5L1155.1 1094.2L1157.1 1095.9L1159.2 1097.6L1161.2 1099.3L1163.3 1101.0L1165.4 1102.7L1167.5 1104.4L1169.5 1106.0L1171.6 1107.7L1173.7 1109.4L1175.8 1111.1L1177.9 1112.7L1180.0 1114.3L1182.1 1115.8L1184.2 1117.3L1186.2 1118.8L1188.3 1120.2L1190.4 1121.7L1192.5 1123.1L1194.6 1124.5L1196.7 1126.0L1198.8 1127.4L1200.9 1128.9L1203.0 1130.3L1205.0 1131.7L1207.1 1133.1L1209.2 1134.6L1211.3 1136.1L1213.3 1137.7L1215.4 1139.4L1217.6 1141.2L1219.7 1143.0L1221.8 1144.8L1223.9 1146.7L1225.9 1148.6L1228.0 1150.6L1230.0 1152.7L1231.7 1154.5L1233.4 1156.4L1235.1 1158.4L1236.8 1160.4L1238.4 1162.4L1240.1 1164.5L1241.7 1166.6L1243.4 1168.6L1245.0 1170.7L1246.7 1172.7L1248.4 1174.7L1250.0 1176.7L1251.7 1178.7L1253.3 1180.8L1255.0 1182.8L1256.6 1184.8L1258.3 1186.8L1259.9 1188.8L1261.6 1190.8L1263.3 1192.7L1265.1 1194.8L1267.0 1196.9L1268.8 1199.0L1270.6 1201.1L1272.5 1203.1L1274.4 1205.1L1276.2 1207.1L1278.1 1209.1L1280.0 1211.0L1282.0 1213.0L1284.1 1215.0L1286.2 1216.9L1288.3 1218.8L1290.3 1220.7L1292.5 1222.5L1294.6 1224.3L1296.7 1226.0L1298.7 1227.6L1300.8 1229.1L1302.9 1230.6L1304.9 1232.1L1307.0 1233.5L1309.1 1234.9L1311.2 1236.3L1313.3 1237.7L1315.7 1239.2L1318.0 1240.7L1320.4 1242.2L1322.8 1243.6L1325.2 1245.0L1327.6 1246.4L1330.0 1247.7L1332.4 1248.9L1334.8 1250.1L1337.2 1251.2L1339.6 1252.2L1342.0 1253.3L1344.4 1254.3L1346.7 1255.3L1349.3 1256.5L1351.7 1257.7L1354.2 1258.9L1356.9 1260.0L1360.0 1261.0L1361.9 1261.5L1364.0 1261.9L1366.2 1262.4L1368.5 1262.8L1371.0 1263.2L1373.5 1263.6L1376.2 1263.9L1378.8 1264.2L1381.6 1264.6L1384.3 1264.9L1387.0 1265.2L1389.7 1265.4L1392.4 1265.7L1395.0 1266.0L1397.6 1266.2L1400.0 1266.5L1402.6 1266.8L1405.1 1267.0L1407.6 1267.3L1410.0 1267.5L1412.4 1267.7L1414.8 1267.9L1417.2 1268.1L1419.6 1268.2L1422.1 1268.4L1424.7 1268.6L1427.3 1268.7L1430.1 1268.9L1433.0 1269.0L1435.1 1269.1L1437.3 1269.2L1439.5 1269.3L1441.7 1269.4L1443.9 1269.4L1446.1 1269.5L1448.4 1269.6L1450.7 1269.6L1453.0 1269.7L1455.4 1269.7L1457.8 1269.8L1460.3 1269.8L1462.8 1269.9L1465.3 1269.9L1467.9 1270.0L1470.6 1270.0L1473.2 1270.0L1476.0 1270.1L1478.8 1270.1L1481.6 1270.1L1484.5 1270.1L1487.5 1270.2L1490.5 1270.2L1493.6 1270.2L1496.8 1270.3L1500.0 1270.3L1501.9 1270.3L1503.7 1270.3L1505.7 1270.3L1507.6 1270.4L1509.6 1270.4L1511.6 1270.4L1513.7 1270.4L1515.8 1270.4L1517.9 1270.4L1520.0 1270.4L1522.2 1270.4L1524.4 1270.5L1526.6 1270.5L1528.8 1270.5L1531.1 1270.5L1533.4 1270.5L1535.8 1270.5L1538.1 1270.5L1540.5 1270.5L1542.9 1270.5L1545.3 1270.5L1547.7 1270.5L1550.2 1270.5L1552.7 1270.5L1555.2 1270.5L1557.7 1270.5L1560.2 1270.5L1562.8 1270.5L1565.3 1270.5L1567.9 1270.5L1570.5 1270.5L1573.1 1270.5L1575.7 1270.5L1578.3 1270.5L1581.0 1270.5L1583.6 1270.5L1586.3 1270.5L1589.0 1270.5L1591.7 1270.5L1594.3 1270.5L1597.0 1270.5L1599.7 1270.5L1602.4 1270.5L1605.2 1270.5L1607.9 1270.5L1610.6 1270.5L1613.3 1270.5L1616.0 1270.5L1618.8 1270.5L1621.5 1270.4L1624.2 1270.4L1627.0 1270.4L1629.7 1270.4L1632.4 1270.4L1635.1 1270.4L1637.8 1270.4L1640.5 1270.4L1643.2 1270.4L1645.9 1270.4L1648.6 1270.4L1651.3 1270.4L1654.0 1270.4L1656.7 1270.4L1659.3 1270.4L1662.0 1270.4L1664.6 1270.4L1667.2 1270.4L1669.9 1270.3L1672.5 1270.3L1675.0 1270.3L1677.6 1270.3L1680.2 1270.3L1682.7 1270.3L1685.2 1270.3L1687.8 1270.3L1690.2 1270.3L1692.7 1270.3L1695.2 1270.3L1697.6 1270.3L1700.0 1270.3L1702.6 1270.3L1705.2 1270.3L1707.8 1270.3L1710.5 1270.3L1713.1 1270.3L1715.7 1270.3L1718.4 1270.3L1721.0 1270.3L1723.7 1270.3L1726.3 1270.3L1729.0 1270.3L1731.6 1270.3L1734.3 1270.3L1737.0 1270.3L1739.6 1270.2L1742.3 1270.2L1745.0 1270.2L1747.6 1270.2L1750.3 1270.2L1752.9 1270.2L1755.6 1270.2L1758.3 1270.2L1760.9 1270.2L1763.6 1270.2L1766.2 1270.2L1768.9 1270.2L1771.5 1270.2L1774.1 1270.2L1776.8 1270.2L1779.4 1270.2L1782.0 1270.2L1784.6 1270.2L1787.2 1270.2L1789.8 1270.1L1792.4 1270.1L1795.0 1270.1L1797.6 1270.1L1800.1 1270.1L1802.7 1270.1L1805.2 1270.1L1807.7 1270.1L1810.2 1270.1L1812.7 1270.1L1815.2 1270.1L1817.7 1270.1L1820.2 1270.1L1822.6 1270.1L1825.1 1270.1L1827.5 1270.1L1829.9 1270.1L1832.3 1270.1L1834.6 1270.1L1837.0 1270.0L1839.3 1270.0L1841.7 1270.0L1844.0 1270.0L1846.3 1270.0L1848.5 1270.0L1850.8 1270.0L1853.0 1270.0L1855.2 1270.0L1857.4 1270.0L1859.5 1270.0L1861.7 1270.0L1863.8 1270.0L1865.9 1270.0L1868.0 1270.0L1870.0 1270.0L1872.9 1270.0L1875.8 1270.0L1878.6 1270.0L1881.4 1270.0L1884.2 1270.0L1886.8 1270.0L1889.5 1270.0L1892.1 1270.0L1894.7 1270.0L1897.2 1270.0L1899.7 1270.0L1902.2 1270.0L1904.6 1270.0L1907.1 1270.0L1909.5 1270.0L1911.9 1270.0L1914.2 1270.0L1916.6 1270.0L1919.0 1270.0L1921.3 1270.0L1923.7 1270.0L1926.0 1270.0L1928.3 1270.0L1930.7 1270.0L1933.1 1270.0L1935.4 1270.0L1937.8 1270.0L1940.2 1270.0L1942.6 1270.0L1945.1 1270.0L1947.5 1270.0L1950.0 1270.0"/><path id="c-blue" stroke="#0000ff" d="M282.3 801.0L282.5 798.5L282.7 796.0L283.0 793.5L283.2 791.0L283.4 788.5L283.6 786.0L283.8 783.5L284.0 781.0L284.3 778.5L284.5 776.0L284.7 773.5L285.0 771.0L285.3 768.5L285.6 766.0L285.8 763.5L286.1 761.0L286.4 758.5L286.6 756.0L286.8 753.5L287.0 751.0L287.1 748.5L287.3 746.0L287.4 743.5L287.4 741.0L287.5 738.5L287.6 736.0L287.6 733.5L287.6 731.0L287.7 728.5L287.8 726.0L287.8 723.5L287.9 721.0L287.9 718.5L287.9 716.0L288.0 713.5L288.0 711.0L288.1 708.5L288.1 706.0L288.2 703.5L288.2 701.0L288.3 698.5L288.4 695.9L288.5 693.3L288.6 690.8L288.8 688.2L288.9 685.7L289.0 683.1L289.2 680.7L289.3 678.3L289.5 676.0L289.7 672.9L290.0 669.8L290.2 666.7L290.5 663.9L290.8 661.3L291.3 659.0L292.4 655.0L293.7 653.0L294.9 654.5L296.2 658.0L297.5 662.0L298.3 664.5L299.0 667.7L299.8 671.2L300.6 674.8L301.4 678.1L302.2 680.9L303.0 682.8L303.8 683.5L304.7 682.8L305.7 681.0L306.6 678.4L307.6 675.3L308.5 672.1L309.3 669.0L309.8 666.8L310.3 664.3L310.8 661.7L311.2 658.9L311.6 656.1L312.0 653.3L312.4 650.5L312.8 647.9L313.2 645.4L313.6 643.2L314.0 641.3L314.8 638.5L315.7 636.2L316.7 633.3L317.2 631.5L317.9 629.4L318.5 627.2L319.2 624.8L320.0 622.2L320.7 619.5L321.5 616.7L322.2 613.9L323.0 611.0L323.8 608.2L324.5 605.4L325.2 602.6L325.8 600.0L326.4 597.4L327.0 594.8L327.5 592.2L328.0 589.6L328.5 587.0L329.0 584.4L329.5 581.8L330.0 579.2L330.5 576.6L331.0 574.1L331.5 571.6L332.0 569.1L332.5 566.7L333.1 564.0L333.6 561.4L334.2 558.8L334.8 556.2L335.3 553.6L335.9 551.1L336.5 548.7L337.0 546.3L337.7 544.0L338.3 541.7L339.1 539.1L339.8 536.5L340.6 534.0L341.5 531.6L342.3 529.3L343.2 527.1L344.2 525.0L345.7 521.7L347.4 518.4L349.1 515.8L350.8 514.8L352.4 515.8L353.9 518.3L355.5 521.6L357.0 525.0L357.9 526.9L358.7 528.9L359.6 531.1L360.5 533.4L361.4 535.8L362.3 538.3L363.2 540.8L364.0 543.4L364.8 545.9L365.6 548.5L366.2 551.0L366.9 553.4L367.4 555.9L367.9 558.3L368.4 560.8L368.9 563.3L369.3 565.9L369.7 568.4L370.1 571.0L370.5 573.6L370.9 576.3L371.3 579.0L371.7 581.7L372.1 584.1L372.5 586.6L372.8 589.2L373.2 591.8L373.6 594.4L374.0 597.0L374.3 599.7L374.7 602.4L375.1 605.1L375.4 607.7L375.8 610.4L376.1 613.1L376.5 615.7L376.8 618.3L377.2 620.8L377.5 623.3L377.9 626.0L378.2 628.7L378.5 631.4L378.9 634.0L379.2 636.6L379.5 639.2L379.8 641.8L380.2 644.4L380.5 646.9L380.8 649.4L381.1 651.9L381.4 654.3L381.7 656.7L382.0 659.4L382.3 662.0L382.6 664.6L382.9 667.2L383.2 669.8L383.5 672.3L383.8 674.7L384.2 677.1L384.6 679.4L385.0 681.7L385.7 684.7L386.4 687.6L387.1 690.4L388.0 693.1L388.9 695.8L390.0 698.3L391.1 700.6L392.3 702.9L393.5 705.1L394.9 707.2L396.4 709.2L398.0 711.0L400.1 713.0L402.5 714.9L405.0 716.5L407.6 718.1L410.0 719.5L412.5 720.8L415.0 721.9L417.5 722.9L420.0 724.0L422.7 725.3L425.4 726.8L428.2 728.0L431.0 728.5L433.6 728.3L436.2 727.6L438.9 726.5L441.5 725.1L443.8 723.5L445.5 721.9L447.1 720.0L448.6 718.0L450.0 715.7L451.3 713.4L452.5 711.0L453.5 708.8L454.4 706.4L455.3 703.9L456.1 701.3L456.8 698.7L457.6 696.1L458.4 693.5L459.2 691.0L460.1 688.6L461.0 686.2L462.0 683.8L462.9 681.4L463.8 679.0L464.8 676.5L465.7 674.0L466.7 671.3L467.5 669.0L468.3 666.7L469.1 664.2L469.9 661.7L470.8 659.2L471.6 656.6L472.4 654.0L473.3 651.4L474.1 648.8L475.0 646.3L475.8 643.8L476.7 641.3L477.6 638.8L478.4 636.1L479.3 633.5L480.1 630.8L480.9 628.2L481.8 625.6L482.7 623.2L483.6 620.8L484.6 618.6L485.6 616.5L486.7 614.7L488.5 612.1L490.4 609.6L492.4 607.5L494.5 606.0L496.7 605.3L498.8 605.6L501.1 606.6L503.5 608.1L505.8 610.1L508.0 612.4L510.0 614.7L511.3 616.5L512.5 618.6L513.6 620.8L514.7 623.2L515.7 625.7L516.6 628.3L517.5 630.9L518.3 633.6L519.1 636.2L519.8 638.8L520.5 641.3L521.2 643.8L521.7 646.3L522.2 648.8L522.7 651.3L523.1 653.8L523.5 656.3L523.8 658.8L524.2 661.4L524.6 664.0L525.0 666.7L525.4 669.1L525.8 671.6L526.1 674.1L526.5 676.6L526.8 679.2L527.2 681.8L527.5 684.4L527.9 687.0L528.3 689.6L528.7 692.2L529.1 694.8L529.5 697.4L530.0 700.0L530.5 702.6L531.0 705.1L531.6 707.7L532.1 710.3L532.7 712.8L533.3 715.4L533.9 717.9L534.5 720.5L535.1 723.1L535.7 725.6L536.3 728.2L536.9 730.7L537.5 733.3L538.1 735.9L538.6 738.4L539.1 741.0L539.7 743.6L540.2 746.2L540.7 748.7L541.3 751.3L541.8 753.9L542.4 756.5L543.0 759.0L543.6 761.6L544.3 764.2L545.0 766.7L545.7 769.1L546.4 771.6L547.2 774.1L548.0 776.6L548.8 779.1L549.7 781.7L550.5 784.2L551.4 786.6L552.3 789.1L553.2 791.4L554.0 793.7L554.9 795.9L555.8 798.0L556.7 800.0L558.0 802.8L559.2 805.4L560.5 807.8L561.8 810.2L563.1 812.4L564.5 814.5L566.0 816.5L567.9 819.0L570.0 821.6L572.1 823.9L574.3 825.5L576.5 826.0L578.1 825.5L579.7 824.4L581.4 822.8L583.2 820.8L584.9 818.4L586.5 815.9L588.1 813.2L589.6 810.5L591.0 808.0L592.1 805.9L593.1 803.6L594.0 801.3L594.9 798.9L595.7 796.4L596.5 793.9L597.3 791.3L598.0 788.6L598.7 785.9L599.4 783.1L600.1 780.3L600.8 777.5L601.5 774.7L602.1 772.4L602.6 770.1L603.2 767.8L603.7 765.4L604.2 763.0L604.7 760.6L605.2 758.1L605.7 755.6L606.2 753.1L606.7 750.6L607.2 748.0L607.7 745.4L608.1 742.9L608.6 740.3L609.1 737.7L609.6 735.1L610.0 732.5L610.5 729.9L611.0 727.3L611.5 724.7L612.0 722.3L612.4 719.9L612.9 717.4L613.3 715.0L613.8 712.5L614.3 710.0L614.7 707.5L615.2 705.0L615.7 702.5L616.1 700.0L616.6 697.5L617.1 695.0L617.5 692.5L618.0 690.0L618.4 687.5L618.9 685.0L619.3 682.5L619.8 680.0L620.2 677.6L620.7 675.2L621.1 672.7L621.6 670.4L622.0 668.0L622.5 665.3L623.0 662.5L623.5 659.7L624.0 656.9L624.6 654.0L625.1 651.2L625.6 648.4L626.1 645.6L626.6 642.9L627.1 640.2L627.6 637.5L628.0 634.9L628.5 632.4L628.9 630.0L629.3 627.6L629.7 625.4L630.1 623.3L630.5 621.3L631.1 618.1L631.6 615.2L632.0 612.6L632.5 610.1L633.0 607.6L633.5 605.0L634.0 602.2L634.6 599.4L635.1 596.6L635.7 593.9L636.5 591.3L637.5 589.0L639.0 586.2L640.7 583.6L642.7 581.5L645.0 580.3L647.2 580.5L649.7 581.7L652.4 583.3L655.1 585.0L657.7 586.1L660.0 586.3L662.0 585.4L663.8 583.8L665.5 581.8L667.1 579.5L668.6 577.0L670.0 574.7L671.2 572.5L672.3 570.3L673.3 567.9L674.3 565.4L675.2 562.9L676.0 560.4L676.7 558.0L677.4 555.3L678.0 552.7L678.5 550.1L679.0 547.4L679.4 544.5L680.0 541.3L680.4 539.1L680.8 536.8L681.2 534.2L681.6 531.5L682.0 528.7L682.4 525.8L682.9 522.9L683.3 520.0L683.8 517.1L684.2 514.3L684.7 511.7L685.1 509.2L685.6 506.9L686.0 504.8L686.5 503.0L687.6 499.3L688.6 496.3L690.0 494.0L694.0 491.7L696.1 492.8L698.0 495.0L698.9 496.9L699.5 499.2L700.0 501.9L700.5 505.0L700.8 506.9L701.2 508.9L701.5 511.1L701.8 513.4L702.2 515.8L702.5 518.4L702.8 521.0L703.1 523.8L703.5 526.6L703.8 529.5L704.1 532.4L704.4 535.3L704.7 538.3L705.0 541.3L705.2 543.5L705.4 545.8L705.6 548.1L705.8 550.4L706.0 552.9L706.2 555.3L706.4 557.8L706.6 560.3L706.8 562.9L707.0 565.5L707.2 568.1L707.4 570.7L707.6 573.4L707.8 576.1L707.9 578.7L708.1 581.4L708.3 584.1L708.5 586.8L708.7 589.5L708.9 592.2L709.1 594.9L709.2 597.5L709.4 600.2L709.6 602.8L709.8 605.4L710.0 608.0L710.2 610.6L710.4 613.1L710.6 615.7L710.8 618.3L711.0 620.8L711.2 623.4L711.3 626.0L711.5 628.5L711.7 631.1L711.9 633.7L712.1 636.2L712.3 638.8L712.5 641.4L712.7 643.9L712.9 646.5L713.1 649.0L713.3 651.6L713.5 654.2L713.7 656.7L713.8 659.3L714.0 661.9L714.2 664.4L714.4 667.0L714.6 669.6L714.8 672.1L715.0 674.7L715.2 677.3L715.4 679.8L715.6 682.4L715.8 684.9L716.0 687.5L716.2 690.1L716.3 692.6L716.5 695.2L716.7 697.8L716.9 700.3L717.1 702.9L717.3 705.4L717.5 708.0L717.7 710.6L717.9 713.1L718.1 715.7L718.3 718.2L718.5 720.8L718.7 723.4L718.8 725.9L719.0 728.5L719.2 731.1L719.4 733.6L719.6 736.2L719.8 738.7L720.0 741.3L720.2 743.9L720.4 746.4L720.6 749.0L720.8 751.6L721.0 754.1L721.2 756.7L721.3 759.3L721.5 761.8L721.7 764.4L721.9 767.0L722.1 769.5L722.3 772.1L722.5 774.6L722.7 777.2L722.9 779.8L723.1 782.3L723.3 784.9L723.5 787.5L723.7 790.0L723.8 792.6L724.0 795.2L724.2 797.7L724.4 800.3L724.6 802.9L724.8 805.4L725.0 808.0L725.2 810.6L725.4 813.1L725.6 815.7L725.7 818.3L725.9 820.8L726.1 823.4L726.3 826.0L726.4 828.5L726.6 831.1L726.8 833.7L726.9 836.2L727.1 838.8L727.3 841.4L727.5 843.9L727.7 846.5L727.8 849.1L728.0 851.6L728.2 854.2L728.4 856.8L728.6 859.3L728.8 861.9L729.0 864.5L729.3 867.0L729.5 869.6L729.7 872.1L730.0 874.7L730.3 877.3L730.5 879.9L730.8 882.5L731.1 885.2L731.4 887.9L731.7 890.6L732.0 893.3L732.4 896.0L732.7 898.7L733.0 901.4L733.4 904.1L733.7 906.8L734.0 909.4L734.4 912.1L734.7 914.7L735.1 917.4L735.4 919.9L735.7 922.5L736.1 925.0L736.4 927.5L736.7 929.9L737.1 932.3L737.4 934.6L737.7 936.9L738.0 939.1L738.3 941.3L738.7 944.2L739.1 947.0L739.4 949.7L739.8 952.3L740.1 954.8L740.5 957.3L740.8 959.7L741.2 962.1L741.6 964.6L742.0 967.0L742.4 969.5L742.8 972.1L743.3 974.7L743.8 977.2L744.2 979.7L744.7 982.3L745.3 984.8L745.8 987.5L746.3 990.1L746.9 992.7L747.5 995.4L748.1 998.0L748.7 1000.7L749.3 1003.3L749.9 1005.9L750.5 1008.5L751.2 1011.0L751.8 1013.5L752.5 1016.0L753.2 1018.5L753.9 1021.0L754.6 1023.4L755.4 1025.8L756.2 1028.2L756.9 1030.6L757.7 1032.9L758.5 1035.2L759.3 1037.6L760.1 1039.9L760.9 1042.2L761.7 1044.6L762.5 1046.9L763.3 1049.3L764.1 1051.7L764.9 1054.2L765.7 1056.6L766.5 1059.1L767.3 1061.6L768.1 1064.1L769.0 1066.6L769.8 1069.0L770.6 1071.4L771.5 1073.8L772.3 1076.1L773.2 1078.4L774.1 1080.6L775.0 1082.7L776.1 1085.3L777.3 1087.8L778.4 1090.3L779.5 1092.8L780.7 1095.1L781.9 1097.3L783.2 1099.4L784.6 1101.3L786.0 1103.0L788.3 1105.3L790.7 1107.5L793.3 1109.3L795.8 1110.6L798.3 1111.0L800.7 1110.4L803.1 1109.0L805.5 1107.1L807.8 1105.0L810.0 1103.0L812.1 1101.1L814.0 1099.2L815.9 1097.2L817.9 1095.0L820.0 1092.7L821.7 1090.9L823.4 1088.9L825.2 1086.8L827.0 1084.6L828.9 1082.4L830.9 1080.2L832.8 1078.1L834.7 1076.1L836.7 1074.3L838.7 1072.7L840.8 1071.2L842.9 1069.8L845.1 1068.5L847.2 1067.2L849.3 1065.8L851.3 1064.3L853.3 1062.7L855.3 1060.9L857.3 1059.1L859.2 1057.2L861.1 1055.2L862.9 1053.1L864.6 1050.9L866.4 1048.5L868.0 1046.0L869.1 1044.0L870.2 1041.8L871.3 1039.5L872.3 1037.1L873.3 1034.6L874.2 1032.1L875.1 1029.5L876.0 1026.9L876.9 1024.3L877.8 1021.7L878.7 1019.1L879.6 1016.6L880.5 1014.3L881.5 1012.0L882.6 1009.3L883.7 1006.6L884.8 1003.8L885.8 1001.1L886.9 998.5L888.0 995.9L889.2 993.6L890.5 991.5L891.8 989.6L893.3 988.0L895.7 986.1L898.4 984.7L901.2 983.7L904.0 983.1L906.7 983.0L909.4 983.6L912.0 984.9L914.6 986.6L917.3 988.3L920.0 989.7L922.4 990.7L925.0 991.9L927.5 992.9L930.1 993.8L932.6 994.2L935.0 994.0L937.3 993.2L939.6 991.9L941.9 990.2L944.1 988.2L946.2 986.0L948.2 983.7L950.0 981.3L951.3 979.4L952.5 977.3L953.6 975.1L954.6 972.7L955.5 970.4L956.4 967.9L957.3 965.4L958.2 962.9L959.1 960.4L960.0 958.0L960.9 955.6L961.8 953.2L962.7 950.7L963.6 948.2L964.5 945.7L965.4 943.2L966.3 940.7L967.2 938.2L968.1 935.8L969.0 933.5L970.0 931.3L971.2 928.7L972.3 926.1L973.4 923.4L974.6 920.9L975.8 918.5L977.1 916.4L978.5 914.5L980.0 913.0L982.3 911.5L984.8 910.4L987.4 909.9L990.0 909.7L992.5 909.9L995.0 910.5L997.5 911.6L1000.0 913.0L1001.7 914.3L1003.3 916.0L1005.0 917.9L1006.6 920.0L1008.2 922.2L1009.9 924.3L1011.6 926.2L1013.3 928.0L1015.4 929.9L1017.6 931.8L1019.8 933.5L1022.0 935.2L1024.3 936.7L1026.7 938.0L1029.1 939.2L1031.6 940.4L1034.1 941.4L1036.6 942.2L1039.2 942.8L1041.7 943.0L1044.2 942.8L1046.8 942.3L1049.4 941.6L1051.9 940.5L1054.4 939.3L1056.7 938.0L1058.8 936.6L1060.8 934.9L1062.7 933.1L1064.6 931.1L1066.4 929.0L1068.2 926.9L1070.0 924.7L1071.6 922.7L1073.1 920.7L1074.6 918.6L1076.1 916.4L1077.6 914.1L1079.0 911.8L1080.5 909.5L1081.9 907.1L1083.3 904.7L1084.6 902.5L1085.8 900.2L1087.1 897.8L1088.3 895.5L1089.6 893.1L1090.8 890.6L1092.0 888.2L1093.2 885.7L1094.4 883.1L1095.5 880.6L1096.7 878.0L1097.7 875.7L1098.7 873.4L1099.6 871.1L1100.6 868.7L1101.5 866.3L1102.5 863.9L1103.4 861.4L1104.3 859.0L1105.2 856.6L1106.2 854.1L1107.1 851.7L1108.1 849.3L1109.0 847.0L1110.0 844.7L1111.1 842.2L1112.2 839.7L1113.3 837.2L1114.3 834.7L1115.5 832.2L1116.6 829.8L1117.7 827.4L1118.8 825.0L1119.9 822.7L1121.0 820.4L1122.2 818.2L1123.3 816.0L1124.7 813.3L1126.2 810.7L1127.6 808.1L1129.0 805.6L1130.5 803.2L1131.9 801.0L1133.5 798.9L1135.0 797.0L1136.9 795.0L1138.8 793.2L1140.8 791.6L1142.9 790.2L1145.0 789.0L1147.7 787.8L1150.5 786.8L1153.4 786.1L1156.7 785.5L1158.9 785.2L1161.4 785.1L1164.0 785.1L1166.7 785.1L1169.5 785.1L1172.2 785.2L1174.9 785.1L1177.6 785.0L1180.0 784.7L1183.0 784.1L1186.0 783.4L1188.9 782.6L1191.6 781.7L1194.2 780.8L1196.7 780.0L1200.0 778.8L1203.0 777.5L1206.0 776.5L1209.0 775.7L1211.9 775.0L1215.0 775.0L1217.3 775.4L1219.7 776.1L1222.2 777.2L1224.5 778.4L1226.7 780.0L1228.4 781.6L1229.9 783.4L1231.4 785.4L1232.7 787.6L1234.1 789.9L1235.4 792.3L1236.7 794.7L1237.8 796.8L1238.9 798.9L1239.9 801.1L1240.9 803.4L1241.9 805.7L1242.9 808.1L1243.8 810.6L1244.8 813.0L1245.7 815.5L1246.7 818.0L1247.6 820.3L1248.4 822.7L1249.3 825.1L1250.2 827.6L1251.0 830.0L1251.8 832.5L1252.7 835.1L1253.5 837.6L1254.3 840.2L1255.1 842.8L1255.9 845.4L1256.7 848.0L1257.4 850.3L1258.1 852.7L1258.8 855.1L1259.4 857.5L1260.1 859.9L1260.8 862.3L1261.5 864.8L1262.1 867.2L1262.8 869.7L1263.4 872.2L1264.1 874.7L1264.7 877.2L1265.4 879.7L1266.0 882.2L1266.7 884.7L1267.3 887.1L1268.0 889.6L1268.6 892.1L1269.2 894.5L1269.9 897.0L1270.5 899.5L1271.1 902.0L1271.7 904.5L1272.4 907.0L1273.0 909.5L1273.6 912.0L1274.2 914.5L1274.9 917.1L1275.5 919.6L1276.1 922.2L1276.7 924.7L1277.3 927.2L1277.9 929.7L1278.5 932.2L1279.1 934.8L1279.6 937.3L1280.2 939.8L1280.8 942.4L1281.4 944.9L1282.0 947.5L1282.6 950.1L1283.1 952.6L1283.7 955.2L1284.3 957.8L1284.9 960.3L1285.5 962.9L1286.1 965.4L1286.7 968.0L1287.3 970.4L1287.9 972.9L1288.5 975.3L1289.0 977.7L1289.6 980.2L1290.2 982.6L1290.8 985.0L1291.4 987.4L1292.0 989.9L1292.6 992.3L1293.2 994.8L1293.9 997.2L1294.5 999.7L1295.1 1002.1L1295.7 1004.6L1296.3 1007.0L1296.9 1009.5L1297.5 1012.0L1298.1 1014.5L1298.7 1016.9L1299.3 1019.4L1299.9 1021.9L1300.5 1024.4L1301.1 1026.9L1301.7 1029.5L1302.3 1032.0L1302.9 1034.5L1303.5 1037.0L1304.1 1039.6L1304.7 1042.1L1305.3 1044.6L1305.9 1047.1L1306.5 1049.6L1307.1 1052.0L1307.7 1054.5L1308.4 1056.9L1309.0 1059.3L1309.7 1062.0L1310.4 1064.6L1311.2 1067.3L1311.9 1069.9L1312.7 1072.6L1313.5 1075.2L1314.2 1077.9L1315.0 1080.5L1315.8 1083.1L1316.5 1085.6L1317.3 1088.1L1318.0 1090.6L1318.7 1093.0L1319.4 1095.4L1320.1 1097.7L1320.8 1100.0L1321.6 1102.7L1322.4 1105.4L1323.1 1108.0L1323.9 1110.4L1324.6 1112.9L1325.3 1115.3L1326.0 1117.7L1326.8 1120.1L1327.5 1122.5L1328.3 1125.0L1329.1 1127.5L1329.9 1130.1L1330.7 1132.6L1331.6 1135.2L1332.4 1137.7L1333.2 1140.2L1334.1 1142.7L1335.0 1145.2L1335.8 1147.6L1336.7 1150.0L1337.7 1152.6L1338.7 1155.2L1339.8 1157.6L1340.8 1160.1L1341.9 1162.5L1342.9 1165.0L1344.0 1167.5L1345.0 1170.0L1346.0 1172.4L1346.9 1174.8L1347.9 1177.3L1348.8 1179.8L1349.7 1182.2L1350.7 1184.7L1351.7 1187.1L1352.7 1189.4L1353.7 1191.7L1354.9 1194.2L1356.1 1196.7L1357.4 1199.1L1358.6 1201.4L1359.9 1203.7L1361.2 1206.0L1362.5 1208.3L1363.8 1210.5L1365.1 1212.7L1366.4 1214.9L1367.7 1217.1L1369.0 1219.2L1370.3 1221.3L1371.7 1223.3L1373.4 1225.8L1375.1 1228.1L1376.8 1230.4L1378.7 1232.7L1380.8 1235.0L1382.5 1236.7L1384.4 1238.4L1386.3 1240.1L1388.3 1241.8L1390.4 1243.5L1392.5 1245.1L1394.6 1246.7L1396.7 1248.3L1399.0 1250.0L1401.3 1251.6L1403.7 1253.2L1406.1 1254.8L1408.5 1256.3L1410.9 1257.8L1413.3 1259.2L1415.6 1260.5L1418.0 1261.8L1420.4 1263.1L1422.8 1264.3L1425.2 1265.4L1427.6 1266.5L1430.0 1267.5L1432.7 1268.5L1435.4 1269.4L1438.1 1270.2L1440.9 1271.0L1443.7 1271.7L1446.7 1272.3L1449.1 1272.7L1451.4 1273.1L1453.8 1273.5L1456.3 1273.8L1458.8 1274.1L1461.4 1274.3L1464.1 1274.6L1467.0 1274.8L1470.0 1275.0L1472.1 1275.1L1474.2 1275.3L1476.4 1275.4L1478.6 1275.5L1480.9 1275.6L1483.2 1275.7L1485.6 1275.7L1488.1 1275.8L1490.6 1275.9L1493.1 1275.9L1495.6 1276.0L1498.2 1276.0L1500.9 1276.1L1503.5 1276.1L1506.2 1276.1L1508.9 1276.2L1511.7 1276.2L1514.4 1276.2L1517.2 1276.3L1520.0 1276.3L1522.2 1276.3L1524.4 1276.4L1526.6 1276.4L1528.7 1276.4L1530.9 1276.4L1533.0 1276.4L1535.2 1276.4L1537.4 1276.4L1539.5 1276.4L1541.7 1276.4L1543.9 1276.4L1546.1 1276.4L1548.4 1276.4L1550.7 1276.4L1553.0 1276.4L1555.3 1276.4L1557.7 1276.4L1560.1 1276.4L1562.5 1276.4L1565.0 1276.4L1567.6 1276.4L1570.2 1276.4L1572.9 1276.4L1575.6 1276.3L1578.4 1276.3L1581.2 1276.3L1584.2 1276.3L1587.2 1276.3L1590.3 1276.3L1593.4 1276.3L1596.7 1276.3L1600.0 1276.3L1601.6 1276.3L1603.3 1276.3L1605.0 1276.3L1606.7 1276.3L1608.4 1276.3L1610.1 1276.3L1611.9 1276.3L1613.7 1276.3L1615.5 1276.3L1617.4 1276.3L1619.3 1276.3L1621.1 1276.3L1623.1 1276.3L1625.0 1276.3L1626.9 1276.3L1628.9 1276.3L1630.9 1276.3L1632.9 1276.3L1635.0 1276.3L1637.0 1276.3L1639.1 1276.3L1641.2 1276.3L1643.3 1276.3L1645.5 1276.3L1647.6 1276.3L1649.8 1276.3L1652.0 1276.3L1654.2 1276.3L1656.4 1276.3L1658.7 1276.3L1660.9 1276.3L1663.2 1276.3L1665.5 1276.3L1667.8 1276.3L1670.1 1276.3L1672.5 1276.3L1674.8 1276.3L1677.2 1276.3L1679.6 1276.3L1682.0 1276.3L1684.4 1276.3L1686.8 1276.3L1689.3 1276.3L1691.7 1276.3L1694.2 1276.3L1696.7 1276.3L1699.2 1276.3L1701.7 1276.3L1704.2 1276.3L1706.8 1276.3L1709.3 1276.3L1711.9 1276.3L1714.4 1276.3L1717.0 1276.3L1719.6 1276.3L1722.2 1276.3L1724.8 1276.3L1727.4 1276.3L1730.1 1276.3L1732.7 1276.3L1735.4 1276.3L1738.0 1276.3L1740.7 1276.3L1743.4 1276.3L1746.0 1276.3L1748.7 1276.3L1751.4 1276.3L1754.1 1276.3L1756.8 1276.3L1759.6 1276.3L1762.3 1276.3L1765.0 1276.3L1767.7 1276.3L1770.5 1276.3L1773.2 1276.3L1776.0 1276.3L1778.7 1276.3L1781.5 1276.3L1784.3 1276.3L1787.0 1276.3L1789.8 1276.3L1792.6 1276.3L1795.4 1276.3L1798.1 1276.3L1800.9 1276.3L1803.7 1276.3L1806.5 1276.3L1809.3 1276.3L1812.1 1276.3L1814.9 1276.3L1817.7 1276.3L1820.5 1276.3L1823.2 1276.3L1826.0 1276.3L1828.8 1276.3L1831.6 1276.3L1834.4 1276.3L1837.2 1276.3L1840.0 1276.3L1842.8 1276.3L1845.6 1276.3L1848.4 1276.3L1851.1 1276.3L1853.9 1276.3L1856.7 1276.3L1859.5 1276.3L1862.3 1276.3L1865.0 1276.3L1867.8 1276.3L1870.5 1276.3L1873.3 1276.3L1876.0 1276.3L1878.8 1276.3L1881.5 1276.3L1884.3 1276.3L1887.0 1276.3L1889.7 1276.3L1892.4 1276.3L1895.1 1276.3L1897.8 1276.3L1900.5 1276.3L1903.2 1276.3L1905.9 1276.3L1908.6 1276.3L1911.2 1276.3L1913.9 1276.3L1916.5 1276.3L1919.2 1276.3L1921.8 1276.3L1924.4 1276.3L1927.0 1276.3L1929.6 1276.3L1932.2 1276.3L1934.8 1276.3L1937.3 1276.3L1939.9 1276.3L1942.4 1276.3L1945.0 1276.3L1947.5 1276.3L1950.0 1276.3"/></g>
<g id="ticklabels"><text class="tk" font-size="65.5" transform="translate(143.66 186.12) scale(1 1.058)">1.0</text>
<text class="tk" font-size="65.5" transform="translate(145.67 408.32) scale(1 1.057)">0.8</text>
<text class="tk" font-size="65.5" transform="translate(145.68 630.32) scale(1 1.061)">0.6</text>
<text class="tk" font-size="65.5" transform="translate(141.65 845.32) scale(1 1.059)">0.4</text>
<text class="tk" font-size="65.5" transform="translate(149.44 1061.13) scale(1 1.054)">0.2</text>
<text class="tk" font-size="60.4" transform="translate(153.42 1279.36) scale(1 1.082)">0.0</text>
<text class="tk" font-size="60" transform="translate(231.21 1390.38) scale(1 1.064)">200</text>
<text class="tk" font-size="60" transform="translate(647.08 1390.38) scale(1 1.064)">300</text>
<text class="tk" font-size="60" transform="translate(1061.48 1390.38) scale(1 1.064)">400</text>
<text class="tk" font-size="60" transform="translate(1477.02 1390.38) scale(1 1.064)">500</text>
<text class="tk" font-size="60" transform="translate(1891.07 1390.38) scale(1 1.064)">600</text></g>
<text class="tk" font-size="66.2" transform="translate(95.44 765.13) rotate(-90) scale(1 1.014)">Abs</text>
<text class="sym" font-size="62.7" transform="translate(1005.14 1483.90) scale(1 0.949)">λ</text>
<text class="tk" font-size="59.2" transform="translate(1052.88 1482.71) scale(1 1.021)" xml:space="preserve">/ nm</text>
<g id="legend"><rect x="1644.5" y="327.5" width="210" height="222" fill="#fff" stroke="#000" stroke-width="3" shape-rendering="crispEdges"/>
<path d="M1651.7 366H1787.2" stroke="#000" stroke-width="14" stroke-linecap="round" fill="none" shape-rendering="crispEdges"/>
<path d="M1651.7 440H1787.2" stroke="#f00" stroke-width="14" stroke-linecap="round" fill="none" shape-rendering="crispEdges"/>
<path d="M1651.7 515H1787.2" stroke="#00f" stroke-width="14" stroke-linecap="round" fill="none" shape-rendering="crispEdges"/>
<text class="lg" font-size="57.5" transform="translate(1819.78 386.90) scale(1 1.087)">4</text>
<text class="lg" font-size="57.5" transform="translate(1819.83 461.09) scale(1 1.089)">5</text>
<text class="lg" font-size="57.5" transform="translate(1819.90 535.38) scale(1 1.108)">6</text></g>
</svg></body></html>
